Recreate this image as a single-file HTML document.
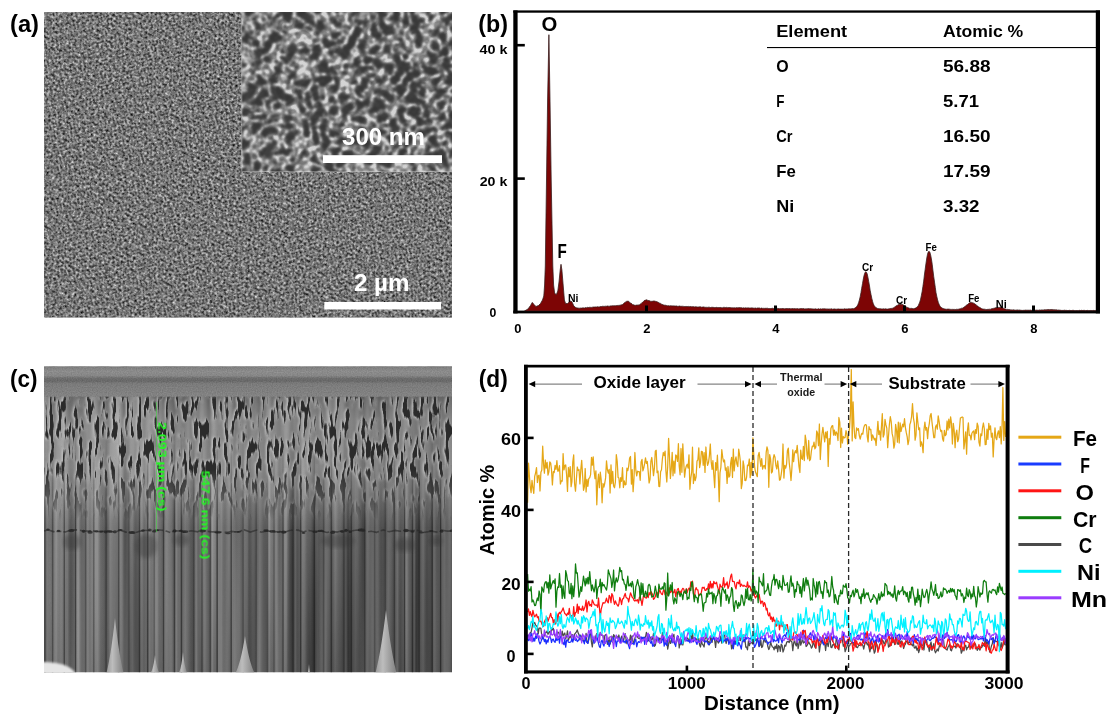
<!DOCTYPE html>
<html lang="en"><head><meta charset="utf-8"><title>Figure</title>
<style>html,body{margin:0;padding:0;background:#fff;}svg{display:block;}text{font-family:"Liberation Sans",Arial,sans-serif;}</style>
</head><body>
<svg width="1115" height="724" viewBox="0 0 1115 724">
<defs>
<filter id="fA" x="0" y="0" width="100%" height="100%" color-interpolation-filters="sRGB">
  <feTurbulence type="fractalNoise" baseFrequency="0.43" numOctaves="2" seed="7" result="t"/>
  <feColorMatrix type="matrix" values="1.3 0 0 0 -0.19  1.3 0 0 0 -0.19  1.3 0 0 0 -0.19  0 0 0 0 1"/>
</filter>
<filter id="fIn" x="0" y="0" width="100%" height="100%" color-interpolation-filters="sRGB">
  <feTurbulence type="turbulence" baseFrequency="0.088" numOctaves="2" seed="14" result="a"/>
  <feColorMatrix in="a" type="matrix" values="-3.0 0 0 0 0.98  -3.0 0 0 0 0.98  -3.0 0 0 0 0.98  0 0 0 0 1" result="ra0"/>
  <feGaussianBlur in="ra0" stdDeviation="0.9" result="ra"/>
  <feTurbulence type="fractalNoise" baseFrequency="0.19" numOctaves="1" seed="8" result="b"/>
  <feColorMatrix in="b" type="matrix" values="3.4 0 0 0 -1.3  3.4 0 0 0 -1.3  3.4 0 0 0 -1.3  0 0 0 0 1" result="rb"/>
  <feComposite in="ra" in2="rb" operator="arithmetic" k1="1.0" k2="0.68" k3="0.05" k4="0.04" result="c"/>
  <feColorMatrix in="c" type="matrix" values="0.64 0 0 0 0.19  0.64 0 0 0 0.19  0.64 0 0 0 0.19  0 0 0 0 1"/>
  <feGaussianBlur stdDeviation="0.5"/>
</filter>
<filter id="fPor" x="0" y="0" width="100%" height="100%" color-interpolation-filters="sRGB">
  <feTurbulence type="fractalNoise" baseFrequency="0.24 0.05" numOctaves="2" seed="5" result="t"/>
  <feColorMatrix in="t" type="matrix" values="0 0 0 0 0.17  0 0 0 0 0.17  0 0 0 0 0.17  -11 0 0 0 5.1" result="dark"/>
  <feColorMatrix in="t" type="matrix" values="0 0 0 0 0.76  0 0 0 0 0.76  0 0 0 0 0.76  -11 0 0 0 5.5" result="lite0"/>
  <feOffset in="lite0" dx="-0.9" dy="-0.3" result="lite1"/>
  <feGaussianBlur in="lite1" stdDeviation="0.8" result="lite"/>
  <feGaussianBlur in="dark" stdDeviation="0.6" result="darkb"/>
  <feMerge><feMergeNode in="lite"/><feMergeNode in="darkb"/></feMerge>
</filter>
<filter id="fCol" x="0" y="0" width="100%" height="100%" color-interpolation-filters="sRGB">
  <feTurbulence type="fractalNoise" baseFrequency="0.09 0.002" numOctaves="2" seed="9" result="t"/>
  <feColorMatrix type="matrix" values="0.55 0 0 0 0.16  0.55 0 0 0 0.16  0.55 0 0 0 0.16  0 0 0 0 1"/>
</filter>
<linearGradient id="gWall" x1="0" y1="0" x2="0" y2="1">
 <stop offset="0" stop-color="#fff" stop-opacity="0.07"/>
 <stop offset="0.2" stop-color="#fff" stop-opacity="0.22"/>
 <stop offset="0.55" stop-color="#fff" stop-opacity="0.24"/>
 <stop offset="1" stop-color="#fff" stop-opacity="0"/>
</linearGradient>
<linearGradient id="gPorMask" x1="0" y1="0" x2="0" y2="1">
 <stop offset="0" stop-color="#fff" stop-opacity="0"/>
 <stop offset="0.05" stop-color="#fff" stop-opacity="1"/>
 <stop offset="0.6" stop-color="#fff" stop-opacity="1"/>
 <stop offset="0.82" stop-color="#fff" stop-opacity="0.5"/>
 <stop offset="1" stop-color="#fff" stop-opacity="0"/>
</linearGradient>
<mask id="pm"><rect x="44" y="393" width="408" height="128" fill="url(#gPorMask)"/></mask>
<filter id="fGrain" x="0" y="0" width="100%" height="100%" color-interpolation-filters="sRGB">
  <feTurbulence type="fractalNoise" baseFrequency="0.8" numOctaves="1" seed="2"/>
  <feColorMatrix type="matrix" values="0.8 0 0 0 0.07  0.8 0 0 0 0.07  0.8 0 0 0 0.07  0 0 0 0 1"/>
</filter>
<filter id="pblur"><feGaussianBlur stdDeviation="0.55"/></filter>
<filter id="blur1"><feGaussianBlur stdDeviation="0.8"/></filter>
<filter id="blur2"><feGaussianBlur stdDeviation="2.2"/></filter>
<filter id="gblur"><feGaussianBlur stdDeviation="0.45"/></filter>
<linearGradient id="gPorFade" x1="0" y1="0" x2="0" y2="1">
  <stop offset="0" stop-color="#808080" stop-opacity="1"/>
  <stop offset="0.10" stop-color="#808080" stop-opacity="0"/>
  <stop offset="0.75" stop-color="#747474" stop-opacity="0"/>
  <stop offset="1" stop-color="#747474" stop-opacity="1"/>
</linearGradient>
<linearGradient id="gColH" x1="0" y1="0" x2="1" y2="0">
  <stop offset="0" stop-color="#fff" stop-opacity="0.06"/>
  <stop offset="0.3" stop-color="#fff" stop-opacity="0.22"/>
  <stop offset="0.62" stop-color="#888" stop-opacity="0.0"/>
  <stop offset="1" stop-color="#000" stop-opacity="0.26"/>
</linearGradient>
<linearGradient id="gColMask" x1="0" y1="0" x2="0" y2="1">
  <stop offset="0" stop-color="#fff" stop-opacity="0"/>
  <stop offset="0.28" stop-color="#fff" stop-opacity="1"/>
  <stop offset="1" stop-color="#fff" stop-opacity="1"/>
</linearGradient>
<mask id="cm"><rect x="44" y="425" width="408" height="250" fill="url(#gColMask)"/></mask>
<linearGradient id="gColShadeH" x1="0" y1="0" x2="1" y2="0">
  <stop offset="0" stop-color="#000" stop-opacity="0"/>
  <stop offset="0.45" stop-color="#000" stop-opacity="0.05"/>
  <stop offset="1" stop-color="#000" stop-opacity="0.24"/>
</linearGradient>
<linearGradient id="gColShade" x1="0" y1="0" x2="0" y2="1">
  <stop offset="0" stop-color="#000" stop-opacity="0"/>
  <stop offset="1" stop-color="#000" stop-opacity="0.10"/>
</linearGradient>
<linearGradient id="gTop" x1="0" y1="0" x2="0" y2="1">
  <stop offset="0" stop-color="#808080"/>
  <stop offset="0.16" stop-color="#919191"/>
  <stop offset="0.30" stop-color="#8b8b8b"/>
  <stop offset="0.40" stop-color="#6a6a6a"/>
  <stop offset="0.48" stop-color="#666"/>
  <stop offset="0.57" stop-color="#7c7c7c"/>
  <stop offset="1" stop-color="#868686"/>
</linearGradient>
<linearGradient id="gSpike" x1="0" y1="0" x2="1" y2="0">
  <stop offset="0" stop-color="#9a9a9a"/>
  <stop offset="0.35" stop-color="#bdbdbd"/>
  <stop offset="1" stop-color="#808080"/>
</linearGradient>
<clipPath id="clipIn"><rect x="241.5" y="12" width="210.5" height="160"/></clipPath>
<clipPath id="clipA"><rect x="44" y="12" width="408" height="305.5"/></clipPath>
<clipPath id="clipC"><rect x="44" y="366.6" width="408" height="305.6"/></clipPath>
<clipPath id="clipB"><rect x="517" y="12" width="579" height="299.5"/></clipPath>
<clipPath id="clipD"><rect x="527" y="367" width="479" height="304"/></clipPath>
</defs>
<rect x="0" y="0" width="1115" height="724" fill="#fff"/>
<g clip-path="url(#clipA)">
<rect x="44" y="12" width="408" height="305.5" fill="#7b7b7b"/>
<rect x="-60" y="-110" width="620" height="560" filter="url(#fA)" transform="rotate(28 248 165)"/>
<g clip-path="url(#clipIn)"><rect x="190" y="-60" width="320" height="310" filter="url(#fIn)" transform="rotate(33 347 92)"/></g>
<path d="M241.8,12 V171.7 H452" fill="none" stroke="#d8d8d8" stroke-width="0.8" opacity="0.55"/>
</g>
<rect x="323" y="155.2" width="119" height="7.8" fill="#fff"/>
<text x="342.00" y="144.6" font-size="24.5" font-weight="bold" fill="#fff" textLength="82.97" lengthAdjust="spacingAndGlyphs" >300 nm</text>
<rect x="324.3" y="302" width="116.8" height="7.5" fill="#fff"/>
<text x="354.00" y="290.5" font-size="24" font-weight="bold" fill="#fff" textLength="55.48" lengthAdjust="spacingAndGlyphs" >2 µm</text>
<text x="10.00" y="31.5" font-size="24" font-weight="bold" fill="#000" textLength="28.99" lengthAdjust="spacingAndGlyphs" >(a)</text>
<rect x="513.3" y="10.4" width="586.7" height="2.3" fill="#000"/>
<rect x="513.3" y="10.4" width="4.3" height="303" fill="#000"/>
<rect x="1095.8" y="10.4" width="4.2" height="303" fill="#000"/>
<rect x="513.3" y="310.6" width="586.7" height="2.8" fill="#000"/>
<g clip-path="url(#clipB)"><path d="M524.5,311.0 L524.5,311.0 L528.0,309.0 L530.5,305.5 L532.3,302.4 L534.0,304.5 L536.0,306.5 L538.5,305.5 L540.5,303.5 L542.5,300.0 L543.8,296.0 L544.6,285.0 L545.3,266.0 L546.5,180.0 L547.6,100.0 L548.9,34.7 L550.0,100.0 L551.2,180.0 L552.8,266.0 L553.6,285.0 L554.6,293.0 L556.3,294.8 L557.8,291.0 L559.0,282.0 L560.2,270.0 L561.0,264.3 L561.9,270.0 L563.4,288.0 L564.4,300.0 L565.6,303.6 L567.5,303.5 L569.5,301.8 L570.9,300.9 L572.3,302.5 L573.8,306.0 L576.0,307.8 L579.0,308.2 L580.0,308.2 L580.8,308.0 L581.5,308.1 L582.3,307.9 L583.1,307.8 L583.9,308.0 L584.6,308.0 L585.4,307.6 L586.2,307.8 L587.0,307.7 L587.7,307.3 L588.5,307.5 L589.3,307.3 L590.1,307.4 L590.8,307.3 L591.6,307.4 L592.4,307.2 L593.2,307.0 L593.9,307.1 L594.7,307.0 L595.5,306.9 L596.3,307.1 L597.0,306.8 L597.8,306.8 L598.6,306.9 L599.4,306.9 L600.1,306.5 L600.9,306.6 L601.7,306.5 L602.4,306.3 L603.2,306.4 L604.0,306.2 L604.8,306.4 L605.5,306.2 L606.3,306.3 L607.1,306.0 L607.9,306.0 L608.6,306.2 L609.4,306.2 L610.2,306.1 L611.0,305.7 L611.7,305.9 L612.5,305.7 L613.3,305.8 L614.1,305.7 L614.8,305.7 L615.6,305.7 L616.4,305.6 L617.2,305.5 L617.9,305.4 L618.7,305.4 L619.5,305.3 L620.2,305.2 L621.0,304.9 L621.8,304.8 L622.6,304.6 L623.3,303.8 L624.1,303.1 L624.9,302.4 L625.7,301.9 L626.4,301.4 L627.2,301.3 L628.0,301.1 L628.8,301.5 L629.5,302.2 L630.3,302.9 L631.1,303.2 L631.9,303.8 L632.6,304.7 L633.4,304.7 L634.2,305.1 L635.0,305.3 L635.7,305.3 L636.5,305.1 L637.3,305.0 L638.1,305.3 L638.8,304.8 L639.6,304.8 L640.4,304.1 L641.1,303.7 L641.9,302.8 L642.7,302.0 L643.5,301.5 L644.2,300.6 L645.0,300.3 L645.8,300.1 L646.6,299.8 L647.3,300.2 L648.1,300.4 L648.9,300.6 L649.7,300.8 L650.4,301.2 L651.2,301.4 L652.0,301.1 L652.8,301.3 L653.5,301.0 L654.3,301.0 L655.1,301.3 L655.9,301.4 L656.6,301.6 L657.4,301.9 L658.2,302.3 L658.9,302.7 L659.7,303.2 L660.5,303.4 L661.3,304.0 L662.0,304.4 L662.8,304.6 L663.6,305.0 L664.4,305.2 L665.1,305.1 L665.9,305.4 L666.7,305.5 L667.5,305.8 L668.2,305.7 L669.0,305.7 L669.8,306.0 L670.6,305.7 L671.3,305.8 L672.1,306.1 L672.9,305.8 L673.7,305.9 L674.4,305.9 L675.2,306.1 L676.0,305.9 L676.8,306.0 L677.5,306.3 L678.3,306.3 L679.1,306.1 L679.8,306.0 L680.6,306.3 L681.4,306.3 L682.2,306.2 L682.9,306.4 L683.7,306.4 L684.5,306.5 L685.3,306.5 L686.0,306.4 L686.8,306.5 L687.6,306.5 L688.4,306.4 L689.1,306.8 L689.9,306.5 L690.7,306.5 L691.5,306.7 L692.2,306.8 L693.0,306.6 L693.8,306.8 L694.6,306.9 L695.3,306.8 L696.1,306.7 L696.9,307.0 L697.6,307.0 L698.4,307.0 L699.2,306.8 L700.0,307.0 L700.7,306.8 L701.5,307.2 L702.3,307.1 L703.1,307.0 L703.8,306.9 L704.6,307.2 L705.4,307.3 L706.2,307.4 L706.9,307.2 L707.7,307.4 L708.5,307.2 L709.3,307.2 L710.0,307.5 L710.8,307.5 L711.6,307.3 L712.4,307.3 L713.1,307.3 L713.9,307.5 L714.7,307.6 L715.5,307.5 L716.2,307.3 L717.0,307.6 L717.8,307.6 L718.5,307.5 L719.3,307.5 L720.1,307.6 L720.9,307.4 L721.6,307.7 L722.4,307.8 L723.2,307.4 L724.0,307.4 L724.7,307.4 L725.5,307.6 L726.3,307.4 L727.1,307.4 L727.8,307.8 L728.6,307.5 L729.4,307.5 L730.2,307.6 L730.9,307.7 L731.7,307.8 L732.5,307.8 L733.3,307.8 L734.0,307.9 L734.8,307.7 L735.6,307.9 L736.3,307.6 L737.1,308.0 L737.9,307.6 L738.7,307.7 L739.4,307.6 L740.2,307.7 L741.0,307.7 L741.8,307.8 L742.5,308.1 L743.3,307.8 L744.1,308.0 L744.9,308.0 L745.6,307.8 L746.4,307.9 L747.2,308.0 L748.0,307.8 L748.7,307.9 L749.5,308.0 L750.3,308.1 L751.1,307.8 L751.8,308.0 L752.6,307.9 L753.4,308.1 L754.2,308.2 L754.9,308.1 L755.7,308.0 L756.5,308.3 L757.2,308.0 L758.0,308.0 L758.8,308.0 L759.6,308.0 L760.3,308.4 L761.1,308.1 L761.9,308.1 L762.7,308.4 L763.4,308.3 L764.2,308.4 L765.0,308.3 L765.8,308.3 L766.5,308.3 L767.3,308.2 L768.1,308.6 L768.9,308.5 L769.6,308.5 L770.4,308.5 L771.2,308.6 L772.0,308.2 L772.7,308.3 L773.5,308.6 L774.3,308.5 L775.0,308.5 L775.8,308.6 L776.6,308.6 L777.4,308.4 L778.1,308.5 L778.9,308.6 L779.7,308.7 L780.5,308.6 L781.2,308.7 L782.0,308.5 L782.8,308.5 L783.6,308.6 L784.3,308.8 L785.1,308.7 L785.9,308.6 L786.7,308.5 L787.4,308.5 L788.2,308.7 L789.0,308.5 L789.8,308.6 L790.5,308.7 L791.3,308.7 L792.1,308.6 L792.8,308.6 L793.6,308.7 L794.4,308.6 L795.2,308.7 L795.9,308.8 L796.7,308.7 L797.5,308.6 L798.3,308.9 L799.0,308.8 L799.8,308.8 L800.6,308.6 L801.4,308.5 L802.1,308.8 L802.9,308.6 L803.7,308.6 L804.5,308.9 L805.2,308.8 L806.0,309.0 L806.8,308.7 L807.6,308.7 L808.3,308.6 L809.1,308.7 L809.9,308.8 L810.7,308.7 L811.4,308.8 L812.2,309.0 L813.0,308.8 L813.7,309.1 L814.5,309.0 L815.3,308.8 L816.1,309.1 L816.8,309.1 L817.6,309.1 L818.4,308.7 L819.2,309.1 L819.9,309.1 L820.7,308.8 L821.5,309.1 L822.3,308.8 L823.0,308.9 L823.8,308.8 L824.6,308.8 L825.4,308.9 L826.1,308.8 L826.9,309.2 L827.7,308.9 L828.5,309.0 L829.2,308.9 L830.0,309.2 L830.8,308.9 L831.5,308.8 L832.3,309.2 L833.1,309.1 L833.9,309.0 L834.6,308.9 L835.4,309.1 L836.2,309.2 L837.0,309.1 L837.7,309.0 L838.5,308.9 L839.3,309.1 L840.1,309.1 L840.8,309.1 L841.6,309.1 L842.4,309.1 L843.2,309.2 L843.9,309.0 L844.7,308.8 L845.5,309.0 L846.3,308.9 L847.0,309.1 L847.8,308.9 L848.6,308.8 L849.4,308.8 L850.1,308.9 L850.9,308.8 L851.7,308.7 L852.4,308.5 L853.2,308.8 L854.0,308.6 L854.8,308.1 L855.5,307.6 L856.3,307.1 L857.1,306.1 L857.9,304.5 L858.6,302.7 L859.4,300.0 L860.2,296.7 L861.0,292.5 L861.7,288.2 L862.5,283.7 L863.3,279.1 L864.1,275.3 L864.8,273.1 L865.6,271.7 L866.4,272.2 L867.2,273.9 L867.9,277.2 L868.7,281.4 L869.5,286.0 L870.2,290.6 L871.0,294.6 L871.8,298.4 L872.6,301.5 L873.3,303.8 L874.1,305.5 L874.9,306.5 L875.7,307.6 L876.4,307.8 L877.2,308.4 L878.0,308.5 L878.8,308.7 L879.5,308.7 L880.3,308.7 L881.1,308.9 L881.9,308.9 L882.6,308.9 L883.4,308.8 L884.2,309.0 L885.0,308.9 L885.7,308.8 L886.5,309.0 L887.3,309.1 L888.1,309.1 L888.8,308.8 L889.6,308.7 L890.4,308.5 L891.1,308.4 L891.9,308.4 L892.7,308.2 L893.5,307.8 L894.2,307.4 L895.0,306.7 L895.8,306.2 L896.6,305.6 L897.3,305.4 L898.1,304.7 L898.9,304.6 L899.7,304.3 L900.4,304.1 L901.2,304.4 L902.0,304.5 L902.8,304.5 L903.5,305.1 L904.3,305.6 L905.1,306.0 L905.9,306.4 L906.6,307.2 L907.4,307.4 L908.2,307.8 L908.9,308.0 L909.7,308.4 L910.5,308.4 L911.3,308.3 L912.0,308.6 L912.8,308.6 L913.6,308.7 L914.4,308.5 L915.1,308.1 L915.9,308.1 L916.7,307.2 L917.5,306.5 L918.2,305.8 L919.0,303.9 L919.8,302.1 L920.6,299.2 L921.3,295.8 L922.1,291.8 L922.9,286.6 L923.7,281.1 L924.4,275.0 L925.2,269.2 L926.0,263.2 L926.8,258.0 L927.5,254.2 L928.3,251.8 L929.1,251.3 L929.8,252.1 L930.6,254.9 L931.4,258.9 L932.2,264.2 L932.9,270.1 L933.7,276.4 L934.5,282.1 L935.3,287.6 L936.0,292.7 L936.8,296.5 L937.6,299.9 L938.4,302.7 L939.1,304.3 L939.9,306.1 L940.7,307.1 L941.5,307.6 L942.2,308.1 L943.0,308.5 L943.8,308.7 L944.6,308.9 L945.3,309.1 L946.1,309.2 L946.9,309.3 L947.6,309.1 L948.4,309.1 L949.2,309.2 L950.0,309.2 L950.7,309.4 L951.5,309.4 L952.3,309.4 L953.1,309.2 L953.8,309.6 L954.6,309.4 L955.4,309.5 L956.2,309.2 L956.9,309.4 L957.7,309.3 L958.5,309.2 L959.3,309.0 L960.0,308.8 L960.8,308.7 L961.6,308.2 L962.4,308.2 L963.1,307.7 L963.9,307.3 L964.7,306.8 L965.5,305.9 L966.2,305.3 L967.0,304.9 L967.8,304.3 L968.5,303.6 L969.3,303.0 L970.1,302.6 L970.9,302.4 L971.6,302.4 L972.4,302.7 L973.2,302.9 L974.0,303.4 L974.7,303.7 L975.5,304.3 L976.3,305.1 L977.1,305.7 L977.8,306.1 L978.6,307.1 L979.4,307.3 L980.2,307.7 L980.9,308.1 L981.7,308.7 L982.5,308.9 L983.3,309.1 L984.0,309.2 L984.8,309.2 L985.6,309.4 L986.3,309.6 L987.1,309.3 L987.9,309.5 L988.7,309.3 L989.4,309.2 L990.2,309.4 L991.0,308.9 L991.8,308.7 L992.5,308.6 L993.3,308.4 L994.1,308.2 L994.9,308.1 L995.6,307.7 L996.4,307.8 L997.2,307.5 L998.0,307.3 L998.7,307.4 L999.5,307.4 L1000.3,307.3 L1001.1,307.5 L1001.8,308.0 L1002.6,307.9 L1003.4,308.2 L1004.2,308.7 L1004.9,308.8 L1005.7,309.1 L1006.5,309.4 L1007.2,309.4 L1008.0,309.3 L1008.8,309.7 L1009.6,309.6 L1010.3,309.8 L1011.1,310.1 L1011.9,309.8 L1012.7,310.0 L1013.4,309.8 L1014.2,310.0 L1015.0,310.0 L1015.8,310.2 L1016.5,310.0 L1017.3,309.9 L1018.1,310.0 L1018.9,310.2 L1019.6,310.0 L1020.4,310.2 L1021.2,310.3 L1022.0,310.4 L1022.7,310.4 L1023.5,310.3 L1024.3,310.3 L1025.0,310.2 L1025.8,310.1 L1026.6,310.2 L1027.4,310.2 L1028.1,310.1 L1028.9,310.3 L1029.7,310.2 L1030.5,310.1 L1031.2,310.3 L1032.0,310.4 L1032.8,310.0 L1033.6,310.1 L1034.3,310.3 L1035.1,310.2 L1035.9,310.2 L1036.7,310.1 L1037.4,310.2 L1038.2,310.3 L1039.0,310.2 L1039.8,309.9 L1040.5,310.1 L1041.3,309.9 L1042.1,310.0 L1042.9,309.9 L1043.6,309.9 L1044.4,309.7 L1045.2,309.8 L1045.9,309.8 L1046.7,309.7 L1047.5,309.6 L1048.3,309.5 L1049.0,309.6 L1049.8,309.7 L1050.6,309.5 L1051.4,309.5 L1052.1,309.4 L1052.9,309.8 L1053.7,309.7 L1054.5,309.7 L1055.2,310.0 L1056.0,309.6 L1056.8,310.0 L1057.6,310.1 L1058.3,310.0 L1059.1,310.2 L1059.9,310.1 L1060.7,310.3 L1061.4,310.4 L1062.2,310.5 L1063.0,310.2 L1063.7,310.4 L1064.5,310.2 L1065.3,310.4 L1066.1,310.2 L1066.8,310.5 L1067.6,310.5 L1068.4,310.5 L1069.2,310.3 L1069.9,310.4 L1070.7,310.5 L1071.5,310.6 L1072.3,310.4 L1073.0,310.3 L1073.8,310.4 L1074.6,310.7 L1075.4,310.7 L1076.1,310.7 L1076.9,310.6 L1077.7,310.7 L1078.5,310.7 L1079.2,310.4 L1080.0,310.3 L1080.8,310.7 L1081.6,310.3 L1082.3,310.5 L1083.1,310.4 L1083.9,310.4 L1084.6,310.4 L1085.4,310.8 L1086.2,310.6 L1087.0,310.5 L1087.7,310.4 L1088.5,310.7 L1089.3,310.7 L1090.1,310.4 L1090.8,310.7 L1091.6,310.6 L1092.4,310.7 L1093.2,310.5 L1093.9,310.4 L1094.7,310.7 L1095.5,310.5 L1096.3,310.5 L1097.0,310.4 L1097.0,311.0 Z" fill="#7d0505" stroke="#3a2020" stroke-width="0.8" stroke-linejoin="round"/></g>
<rect x="517" y="43.900000000000006" width="7.8" height="2.6" fill="#000"/>
<rect x="517" y="177.29999999999998" width="7.8" height="2.6" fill="#000"/>
<rect x="645.0" y="305.5" width="3" height="6" fill="#000"/>
<rect x="774.0" y="305.5" width="3" height="6" fill="#000"/>
<rect x="903.0" y="305.5" width="3" height="6" fill="#000"/>
<rect x="1032.0" y="305.5" width="3" height="6" fill="#000"/>
<text x="479.60" y="54" font-size="13.2" font-weight="bold" fill="#000" textLength="27.98" lengthAdjust="spacingAndGlyphs" >40 k</text>
<text x="479.70" y="186" font-size="13.2" font-weight="bold" fill="#000" textLength="27.58" lengthAdjust="spacingAndGlyphs" >20 k</text>
<text x="489.60" y="317" font-size="13.2" font-weight="bold" fill="#000" textLength="6.81" lengthAdjust="spacingAndGlyphs" >0</text>
<text x="514.20" y="333.4" font-size="13.4" font-weight="bold" fill="#000" textLength="7.22" lengthAdjust="spacingAndGlyphs" >0</text>
<text x="643.20" y="333.4" font-size="13.4" font-weight="bold" fill="#000" textLength="7.22" lengthAdjust="spacingAndGlyphs" >2</text>
<text x="772.20" y="333.4" font-size="13.4" font-weight="bold" fill="#000" textLength="7.22" lengthAdjust="spacingAndGlyphs" >4</text>
<text x="901.20" y="333.4" font-size="13.4" font-weight="bold" fill="#000" textLength="7.22" lengthAdjust="spacingAndGlyphs" >6</text>
<text x="1030.20" y="333.4" font-size="13.4" font-weight="bold" fill="#000" textLength="7.22" lengthAdjust="spacingAndGlyphs" >8</text>
<text x="541.60" y="31.2" font-size="20" font-weight="bold" fill="#000" textLength="15.81" lengthAdjust="spacingAndGlyphs" >O</text>
<text x="557.60" y="258" font-size="20.5" font-weight="bold" fill="#000" textLength="9.31" lengthAdjust="spacingAndGlyphs" >F</text>
<text x="568.00" y="302" font-size="10.5" font-weight="bold" fill="#000" >Ni</text>
<text x="862.10" y="270.6" font-size="10.5" font-weight="bold" fill="#000" textLength="11.19" lengthAdjust="spacingAndGlyphs" >Cr</text>
<text x="896.00" y="304.4" font-size="10.5" font-weight="bold" fill="#000" textLength="11.19" lengthAdjust="spacingAndGlyphs" >Cr</text>
<text x="925.50" y="250.5" font-size="10.5" font-weight="bold" fill="#000" textLength="11.30" lengthAdjust="spacingAndGlyphs" >Fe</text>
<text x="968.20" y="302.4" font-size="10.5" font-weight="bold" fill="#000" textLength="11.30" lengthAdjust="spacingAndGlyphs" >Fe</text>
<text x="995.80" y="307.6" font-size="10.5" font-weight="bold" fill="#000" textLength="11.00" lengthAdjust="spacingAndGlyphs" >Ni</text>
<text x="478.30" y="31.5" font-size="24" font-weight="bold" fill="#000" textLength="29.69" lengthAdjust="spacingAndGlyphs" >(b)</text>
<text x="776.20" y="36.8" font-size="16.6" font-weight="bold" fill="#000" textLength="71.00" lengthAdjust="spacingAndGlyphs" >Element</text>
<text x="943.00" y="36.8" font-size="16.6" font-weight="bold" fill="#000" textLength="80.28" lengthAdjust="spacingAndGlyphs" >Atomic %</text>
<rect x="767" y="47" width="329" height="1.1" fill="#000"/>
<text x="776.20" y="71.5" font-size="16.6" font-weight="bold" fill="#000" textLength="12.41" lengthAdjust="spacingAndGlyphs" >O</text>
<text x="943.00" y="71.5" font-size="16.6" font-weight="bold" fill="#000" textLength="47.50" lengthAdjust="spacingAndGlyphs" >56.88</text>
<text x="776.20" y="106.7" font-size="16.6" font-weight="bold" fill="#000" textLength="8.21" lengthAdjust="spacingAndGlyphs" >F</text>
<text x="943.00" y="106.7" font-size="16.6" font-weight="bold" fill="#000" textLength="35.98" lengthAdjust="spacingAndGlyphs" >5.71</text>
<text x="776.20" y="141.9" font-size="16.6" font-weight="bold" fill="#000" textLength="16.28" lengthAdjust="spacingAndGlyphs" >Cr</text>
<text x="943.00" y="141.9" font-size="16.6" font-weight="bold" fill="#000" textLength="47.50" lengthAdjust="spacingAndGlyphs" >16.50</text>
<text x="776.20" y="177.1" font-size="16.6" font-weight="bold" fill="#000" textLength="19.59" lengthAdjust="spacingAndGlyphs" >Fe</text>
<text x="943.00" y="177.1" font-size="16.6" font-weight="bold" fill="#000" textLength="47.50" lengthAdjust="spacingAndGlyphs" >17.59</text>
<text x="776.20" y="212.3" font-size="16.6" font-weight="bold" fill="#000" textLength="18.00" lengthAdjust="spacingAndGlyphs" >Ni</text>
<text x="943.00" y="212.3" font-size="16.6" font-weight="bold" fill="#000" textLength="36.48" lengthAdjust="spacingAndGlyphs" >3.32</text>
<g clip-path="url(#clipC)">
<rect x="44" y="366.6" width="408" height="305.6" fill="#7e7e7e"/>
<rect x="44" y="366.6" width="408" height="305.6" filter="url(#fCol)"/>
<rect x="45.0" y="469" width="7.7" height="206" fill="url(#gColH)" opacity="0.56" mask="url(#cm)"/>
<rect x="52.7" y="459" width="11.7" height="216" fill="url(#gColH)" opacity="0.94" mask="url(#cm)"/>
<rect x="64.4" y="451" width="11.3" height="224" fill="url(#gColH)" opacity="0.87" mask="url(#cm)"/>
<rect x="75.7" y="431" width="10.1" height="244" fill="url(#gColH)" opacity="0.85" mask="url(#cm)"/>
<rect x="85.8" y="462" width="8.1" height="213" fill="url(#gColH)" opacity="0.71" mask="url(#cm)"/>
<rect x="93.9" y="467" width="12.4" height="208" fill="url(#gColH)" opacity="0.56" mask="url(#cm)"/>
<rect x="106.3" y="443" width="12.6" height="232" fill="url(#gColH)" opacity="0.94" mask="url(#cm)"/>
<rect x="118.9" y="445" width="10.3" height="230" fill="url(#gColH)" opacity="0.65" mask="url(#cm)"/>
<rect x="129.2" y="470" width="10.3" height="205" fill="url(#gColH)" opacity="0.66" mask="url(#cm)"/>
<rect x="139.5" y="426" width="8.3" height="249" fill="url(#gColH)" opacity="0.66" mask="url(#cm)"/>
<rect x="147.8" y="457" width="6.5" height="218" fill="url(#gColH)" opacity="0.50" mask="url(#cm)"/>
<rect x="154.3" y="447" width="9.3" height="228" fill="url(#gColH)" opacity="1.00" mask="url(#cm)"/>
<rect x="163.6" y="450" width="10.9" height="225" fill="url(#gColH)" opacity="0.72" mask="url(#cm)"/>
<rect x="174.5" y="435" width="7.0" height="240" fill="url(#gColH)" opacity="0.86" mask="url(#cm)"/>
<rect x="181.5" y="450" width="12.5" height="225" fill="url(#gColH)" opacity="0.78" mask="url(#cm)"/>
<rect x="194.0" y="433" width="8.2" height="242" fill="url(#gColH)" opacity="0.79" mask="url(#cm)"/>
<rect x="202.2" y="441" width="8.2" height="234" fill="url(#gColH)" opacity="0.54" mask="url(#cm)"/>
<rect x="210.4" y="441" width="6.8" height="234" fill="url(#gColH)" opacity="0.96" mask="url(#cm)"/>
<rect x="217.3" y="439" width="14.0" height="236" fill="url(#gColH)" opacity="0.78" mask="url(#cm)"/>
<rect x="231.2" y="428" width="12.0" height="247" fill="url(#gColH)" opacity="0.51" mask="url(#cm)"/>
<rect x="243.3" y="460" width="13.1" height="215" fill="url(#gColH)" opacity="0.90" mask="url(#cm)"/>
<rect x="256.4" y="456" width="11.1" height="219" fill="url(#gColH)" opacity="0.66" mask="url(#cm)"/>
<rect x="267.5" y="465" width="6.8" height="210" fill="url(#gColH)" opacity="0.82" mask="url(#cm)"/>
<rect x="274.2" y="443" width="9.0" height="232" fill="url(#gColH)" opacity="0.98" mask="url(#cm)"/>
<rect x="283.2" y="468" width="10.2" height="207" fill="url(#gColH)" opacity="0.99" mask="url(#cm)"/>
<rect x="293.4" y="465" width="7.4" height="210" fill="url(#gColH)" opacity="0.77" mask="url(#cm)"/>
<rect x="300.8" y="442" width="13.6" height="233" fill="url(#gColH)" opacity="0.72" mask="url(#cm)"/>
<rect x="314.4" y="464" width="9.3" height="211" fill="url(#gColH)" opacity="0.59" mask="url(#cm)"/>
<rect x="323.7" y="428" width="7.7" height="247" fill="url(#gColH)" opacity="0.54" mask="url(#cm)"/>
<rect x="331.4" y="460" width="12.6" height="215" fill="url(#gColH)" opacity="0.89" mask="url(#cm)"/>
<rect x="344.0" y="463" width="7.4" height="212" fill="url(#gColH)" opacity="0.72" mask="url(#cm)"/>
<rect x="351.4" y="437" width="13.5" height="238" fill="url(#gColH)" opacity="0.48" mask="url(#cm)"/>
<rect x="364.9" y="444" width="9.9" height="231" fill="url(#gColH)" opacity="0.61" mask="url(#cm)"/>
<rect x="374.8" y="428" width="10.6" height="247" fill="url(#gColH)" opacity="0.54" mask="url(#cm)"/>
<rect x="385.4" y="465" width="9.1" height="210" fill="url(#gColH)" opacity="0.64" mask="url(#cm)"/>
<rect x="394.5" y="459" width="10.1" height="216" fill="url(#gColH)" opacity="0.99" mask="url(#cm)"/>
<rect x="404.6" y="436" width="7.9" height="239" fill="url(#gColH)" opacity="0.71" mask="url(#cm)"/>
<rect x="412.5" y="449" width="6.8" height="226" fill="url(#gColH)" opacity="0.98" mask="url(#cm)"/>
<rect x="419.3" y="426" width="13.0" height="249" fill="url(#gColH)" opacity="0.85" mask="url(#cm)"/>
<rect x="432.3" y="463" width="8.3" height="212" fill="url(#gColH)" opacity="0.57" mask="url(#cm)"/>
<rect x="440.6" y="465" width="12.4" height="210" fill="url(#gColH)" opacity="0.89" mask="url(#cm)"/>
<g mask="url(#cm)" filter="url(#gblur)">
<rect x="44.4" y="430" width="1.25" height="245" fill="#1c1c1c" opacity="0.44"/>
<rect x="52.1" y="430" width="1.25" height="245" fill="#1c1c1c" opacity="0.37"/>
<rect x="63.8" y="430" width="1.25" height="245" fill="#1c1c1c" opacity="0.43"/>
<rect x="75.1" y="430" width="1.25" height="245" fill="#1c1c1c" opacity="0.54"/>
<rect x="85.2" y="430" width="1.25" height="245" fill="#1c1c1c" opacity="0.32"/>
<rect x="93.3" y="430" width="1.25" height="245" fill="#1c1c1c" opacity="0.41"/>
<rect x="105.7" y="430" width="1.25" height="245" fill="#1c1c1c" opacity="0.31"/>
<rect x="118.3" y="430" width="1.25" height="245" fill="#1c1c1c" opacity="0.51"/>
<rect x="128.6" y="430" width="1.25" height="245" fill="#1c1c1c" opacity="0.20"/>
<rect x="138.9" y="430" width="1.25" height="245" fill="#1c1c1c" opacity="0.47"/>
<rect x="147.2" y="430" width="1.25" height="245" fill="#1c1c1c" opacity="0.58"/>
<rect x="153.7" y="430" width="1.25" height="245" fill="#1c1c1c" opacity="0.21"/>
<rect x="163.0" y="430" width="1.25" height="245" fill="#1c1c1c" opacity="0.44"/>
<rect x="173.9" y="430" width="1.25" height="245" fill="#1c1c1c" opacity="0.46"/>
<rect x="180.9" y="430" width="1.25" height="245" fill="#1c1c1c" opacity="0.54"/>
<rect x="193.4" y="430" width="1.25" height="245" fill="#1c1c1c" opacity="0.43"/>
<rect x="201.6" y="430" width="1.25" height="245" fill="#1c1c1c" opacity="0.30"/>
<rect x="209.8" y="430" width="1.25" height="245" fill="#1c1c1c" opacity="0.36"/>
<rect x="216.7" y="430" width="1.25" height="245" fill="#1c1c1c" opacity="0.58"/>
<rect x="230.6" y="430" width="1.25" height="245" fill="#1c1c1c" opacity="0.56"/>
<rect x="242.7" y="430" width="1.25" height="245" fill="#1c1c1c" opacity="0.25"/>
<rect x="255.8" y="430" width="1.25" height="245" fill="#1c1c1c" opacity="0.24"/>
<rect x="266.9" y="430" width="1.25" height="245" fill="#1c1c1c" opacity="0.24"/>
<rect x="273.6" y="430" width="1.25" height="245" fill="#1c1c1c" opacity="0.21"/>
<rect x="282.6" y="430" width="1.25" height="245" fill="#1c1c1c" opacity="0.38"/>
<rect x="292.8" y="430" width="1.25" height="245" fill="#1c1c1c" opacity="0.26"/>
<rect x="300.2" y="430" width="1.25" height="245" fill="#1c1c1c" opacity="0.55"/>
<rect x="313.8" y="430" width="1.25" height="245" fill="#1c1c1c" opacity="0.46"/>
<rect x="323.1" y="430" width="1.25" height="245" fill="#1c1c1c" opacity="0.25"/>
<rect x="330.8" y="430" width="1.25" height="245" fill="#1c1c1c" opacity="0.42"/>
<rect x="343.4" y="430" width="1.25" height="245" fill="#1c1c1c" opacity="0.33"/>
<rect x="350.8" y="430" width="1.25" height="245" fill="#1c1c1c" opacity="0.40"/>
<rect x="364.3" y="430" width="1.25" height="245" fill="#1c1c1c" opacity="0.29"/>
<rect x="374.2" y="430" width="1.25" height="245" fill="#1c1c1c" opacity="0.27"/>
<rect x="384.8" y="430" width="1.25" height="245" fill="#1c1c1c" opacity="0.27"/>
<rect x="393.9" y="430" width="1.25" height="245" fill="#1c1c1c" opacity="0.35"/>
<rect x="404.0" y="430" width="1.25" height="245" fill="#1c1c1c" opacity="0.48"/>
<rect x="411.9" y="430" width="1.25" height="245" fill="#1c1c1c" opacity="0.42"/>
<rect x="418.7" y="430" width="1.25" height="245" fill="#1c1c1c" opacity="0.22"/>
<rect x="431.7" y="430" width="1.25" height="245" fill="#1c1c1c" opacity="0.48"/>
<rect x="440.0" y="430" width="1.25" height="245" fill="#1c1c1c" opacity="0.55"/>
</g>
<rect x="44" y="500" width="408" height="172.2" fill="url(#gColShade)"/>
<rect x="44" y="366.6" width="408" height="305.6" fill="url(#gColShadeH)"/>
<rect x="44" y="393" width="408" height="135" fill="url(#gWall)"/>
<g mask="url(#pm)"><rect x="44" y="393" width="408" height="128" filter="url(#fPor)"/></g>
<rect x="44" y="366.6" width="408" height="30" fill="url(#gTop)"/>
<rect x="44" y="366.6" width="408" height="30" filter="url(#fGrain)" opacity="0.18"/>
<g filter="url(#gblur)"><path d="M44,531 L47.9,529.8 L54.6,531.9 L58.5,531.1 L65.2,532.0 L71.4,530.1 L77.9,529.8 L83.6,531.0 L90.1,531.1 L96.5,531.0 L100.7,531.9 L105.8,530.9 L109.6,531.4 L114.9,532.2 L120.3,530.2 L126.1,532.2 L132.1,532.4 L136.7,532.3 L143.0,530.4 L149.8,530.5 L154.3,530.4 L157.5,529.7 L162.5,530.2 L166.0,531.1 L170.6,532.5 L174.6,530.7 L180.9,531.0 L184.8,532.1 L191.8,530.7 L197.4,531.9 L202.4,529.8 L206.7,531.5 L212.3,531.9 L217.9,531.6 L224.8,532.4 L228.0,532.2 L231.6,531.4 L237.6,532.3 L244.1,529.8 L250.3,532.1 L256.8,530.1 L261.1,532.2 L266.0,531.1 L272.5,531.3 L275.5,532.0 L278.8,531.1 L283.8,532.4 L288.8,530.8 L294.9,529.7 L298.7,530.4 L303.4,531.9 L308.4,530.5 L315.0,531.6 L320.9,531.0 L326.9,532.5 L332.6,531.3 L336.9,532.1 L342.3,530.8 L345.8,529.7 L350.3,531.2 L357.1,530.0 L361.4,530.4 L367.6,531.9 L371.2,531.3 L376.5,532.3 L383.4,529.9 L389.1,531.7 L395.4,530.4 L400.0,531.3 L405.9,530.4 L412.5,530.7 L415.5,530.1 L421.3,531.3 L424.6,532.4 L431.2,531.3 L437.9,532.2 L441.5,530.2 L447.3,531.1 L451.3,531.1 L454.8,529.7 " fill="none" stroke="#262626" stroke-width="1.6" opacity="0.6" stroke-dasharray="11 2 5 2 14 3"/>
<g fill="#222" opacity="0.75"><ellipse cx="47.9" cy="529.6" rx="1.6" ry="1.2"/><ellipse cx="58.5" cy="530.9" rx="1.7" ry="1.1"/><ellipse cx="71.4" cy="530.6" rx="3.0" ry="1.6"/><ellipse cx="83.6" cy="531.3" rx="1.7" ry="1.6"/><ellipse cx="90.1" cy="532.2" rx="2.7" ry="1.6"/><ellipse cx="96.5" cy="531.5" rx="2.4" ry="1.0"/><ellipse cx="100.7" cy="531.5" rx="2.8" ry="1.1"/><ellipse cx="105.8" cy="532.1" rx="1.9" ry="1.2"/><ellipse cx="109.6" cy="531.5" rx="3.1" ry="1.2"/><ellipse cx="114.9" cy="531.8" rx="2.0" ry="1.5"/><ellipse cx="120.3" cy="530.0" rx="2.5" ry="0.9"/><ellipse cx="132.1" cy="532.4" rx="3.5" ry="1.5"/><ellipse cx="143.0" cy="530.6" rx="1.8" ry="1.2"/><ellipse cx="149.8" cy="530.1" rx="1.9" ry="1.5"/><ellipse cx="154.3" cy="531.5" rx="2.4" ry="1.1"/><ellipse cx="157.5" cy="530.3" rx="1.8" ry="0.9"/><ellipse cx="174.6" cy="530.9" rx="2.0" ry="1.6"/><ellipse cx="180.9" cy="530.9" rx="2.0" ry="1.1"/><ellipse cx="184.8" cy="531.7" rx="3.4" ry="1.4"/><ellipse cx="202.4" cy="530.8" rx="3.4" ry="1.6"/><ellipse cx="217.9" cy="532.6" rx="3.5" ry="1.0"/><ellipse cx="228.0" cy="533.3" rx="2.9" ry="0.9"/><ellipse cx="237.6" cy="531.8" rx="3.4" ry="0.9"/><ellipse cx="266.0" cy="530.6" rx="2.7" ry="1.3"/><ellipse cx="272.5" cy="531.4" rx="3.1" ry="1.3"/><ellipse cx="278.8" cy="532.0" rx="2.2" ry="1.1"/><ellipse cx="283.8" cy="532.1" rx="2.8" ry="1.6"/><ellipse cx="303.4" cy="532.9" rx="1.9" ry="1.0"/><ellipse cx="315.0" cy="531.7" rx="2.6" ry="1.3"/><ellipse cx="320.9" cy="530.9" rx="3.3" ry="1.2"/><ellipse cx="332.6" cy="532.4" rx="2.5" ry="1.6"/><ellipse cx="342.3" cy="531.6" rx="2.3" ry="1.4"/><ellipse cx="345.8" cy="530.6" rx="1.9" ry="1.6"/><ellipse cx="350.3" cy="531.8" rx="1.7" ry="1.2"/><ellipse cx="361.4" cy="529.9" rx="3.5" ry="1.6"/><ellipse cx="405.9" cy="530.5" rx="2.8" ry="1.7"/><ellipse cx="412.5" cy="531.6" rx="2.1" ry="1.2"/><ellipse cx="421.3" cy="532.5" rx="2.8" ry="1.0"/><ellipse cx="431.2" cy="531.0" rx="2.0" ry="1.1"/><ellipse cx="441.5" cy="531.3" rx="1.8" ry="1.5"/><ellipse cx="451.3" cy="530.7" rx="1.6" ry="1.2"/></g></g>
<ellipse cx="72" cy="542" rx="9" ry="8" fill="#333" opacity="0.38" filter="url(#blur2)"/>
<ellipse cx="146" cy="546" rx="11" ry="12" fill="#333" opacity="0.38" filter="url(#blur2)"/>
<ellipse cx="181" cy="540" rx="8" ry="6" fill="#333" opacity="0.38" filter="url(#blur2)"/>
<ellipse cx="338" cy="541" rx="17" ry="7" fill="#333" opacity="0.38" filter="url(#blur2)"/>
<ellipse cx="405" cy="545" rx="11" ry="7" fill="#333" opacity="0.38" filter="url(#blur2)"/>
<ellipse cx="436" cy="541" rx="7" ry="5" fill="#333" opacity="0.38" filter="url(#blur2)"/>
<path d="M106.5,673 Q111.26,653.5 115,618 Q118.74,653.5 123.5,673 Z" fill="url(#gSpike)" filter="url(#gblur)"/>
<path d="M235.5,673 Q240.82,662.5 245,636 Q249.18,662.5 254.5,673 Z" fill="url(#gSpike)" filter="url(#gblur)"/>
<path d="M375.5,673 Q381.38,649.5 386,610 Q390.62,649.5 396.5,673 Z" fill="url(#gSpike)" filter="url(#gblur)"/>
<path d="M178.5,673 Q181.02,670.5 183,652 Q184.98,670.5 187.5,673 Z" fill="url(#gSpike)" filter="url(#gblur)"/>
<path d="M150.0,673 Q152.8,672.0 155,655 Q157.2,672.0 160.0,673 Z" fill="url(#gSpike)" filter="url(#gblur)"/>
<path d="M306.5,673 Q307.9,676.5 309,664 Q310.1,676.5 311.5,673 Z" fill="url(#gSpike)" filter="url(#gblur)"/>
<ellipse cx="44" cy="676" rx="32" ry="14" fill="#e6e6e6" filter="url(#blur1)"/>
</g>
<rect x="156.2" y="402" width="0.8" height="130" fill="#3fe03f" opacity="0.65"/>
<rect x="199.3" y="498" width="0.8" height="34" fill="#3fe03f" opacity="0.25"/>
<text transform="translate(158.4,422) rotate(90)" x="-0.00" y="0" font-size="10.8" font-weight="bold" fill="#22f822" textLength="89.49" lengthAdjust="spacingAndGlyphs" filter="url(#gblur)">2.093 µm (cs)</text>
<text transform="translate(201.6,470.5) rotate(90)" x="-0.00" y="0" font-size="10.8" font-weight="bold" fill="#22f822" textLength="88.99" lengthAdjust="spacingAndGlyphs" filter="url(#gblur)">547.6 nm (cs)</text>
<text x="10.00" y="386.5" font-size="24" font-weight="bold" fill="#000" textLength="27.49" lengthAdjust="spacingAndGlyphs" >(c)</text>
<g clip-path="url(#clipD)">
<path d="M527.6,640.3 L528.5,635.4 L529.4,634.5 L530.3,632.6 L531.1,632.2 L532.0,627.8 L532.9,622.4 L533.8,623.7 L534.7,622.5 L535.6,625.1 L536.5,625.9 L537.4,627.1 L538.2,633.9 L539.1,628.2 L540.0,628.0 L540.9,628.4 L541.8,636.0 L542.7,638.8 L543.6,637.3 L544.4,635.4 L545.3,632.4 L546.2,632.7 L547.1,631.0 L548.0,634.3 L548.9,632.3 L549.8,631.5 L550.7,634.7 L551.5,628.1 L552.4,629.9 L553.3,628.4 L554.2,633.9 L555.1,636.0 L556.0,635.4 L556.9,634.6 L557.8,632.0 L558.6,632.5 L559.5,635.0 L560.4,637.4 L561.3,636.8 L562.2,631.1 L563.1,636.0 L564.0,634.1 L564.8,633.0 L565.7,638.9 L566.6,635.8 L567.5,630.9 L568.4,640.2 L569.3,637.6 L570.2,636.1 L571.1,638.1 L571.9,634.5 L572.8,635.3 L573.7,640.1 L574.6,634.2 L575.5,633.0 L576.4,631.8 L577.3,629.9 L578.1,632.9 L579.0,634.6 L579.9,639.8 L580.8,635.2 L581.7,637.9 L582.6,638.3 L583.5,641.1 L584.4,641.0 L585.2,639.6 L586.1,633.4 L587.0,642.3 L587.9,643.2 L588.8,638.0 L589.7,632.7 L590.6,633.9 L591.5,642.4 L592.3,647.0 L593.2,639.1 L594.1,640.4 L595.0,642.0 L595.9,635.8 L596.8,633.6 L597.7,636.1 L598.5,636.6 L599.4,636.2 L600.3,632.4 L601.2,634.4 L602.1,635.5 L603.0,635.7 L603.9,642.7 L604.8,635.7 L605.6,634.7 L606.5,635.8 L607.4,644.3 L608.3,642.5 L609.2,637.2 L610.1,644.2 L611.0,641.1 L611.8,636.2 L612.7,642.4 L613.6,634.7 L614.5,635.9 L615.4,638.5 L616.3,637.8 L617.2,636.5 L618.1,637.9 L618.9,635.0 L619.8,640.0 L620.7,640.7 L621.6,636.2 L622.5,638.2 L623.4,641.7 L624.3,636.9 L625.2,633.7 L626.0,639.0 L626.9,643.6 L627.8,641.0 L628.7,640.3 L629.6,640.6 L630.5,635.1 L631.4,641.4 L632.2,635.9 L633.1,642.4 L634.0,642.9 L634.9,638.4 L635.8,635.5 L636.7,635.5 L637.6,637.2 L638.5,638.3 L639.3,638.7 L640.2,637.4 L641.1,639.5 L642.0,638.6 L642.9,637.5 L643.8,639.0 L644.7,637.0 L645.5,637.0 L646.4,632.4 L647.3,636.4 L648.2,640.1 L649.1,641.1 L650.0,640.2 L650.9,636.9 L651.8,640.0 L652.6,638.6 L653.5,633.5 L654.4,646.3 L655.3,645.4 L656.2,640.8 L657.1,638.9 L658.0,638.8 L658.9,641.0 L659.7,638.2 L660.6,638.5 L661.5,641.3 L662.4,632.5 L663.3,636.6 L664.2,640.8 L665.1,640.6 L665.9,641.0 L666.8,640.6 L667.7,649.1 L668.6,644.4 L669.5,638.2 L670.4,643.4 L671.3,641.4 L672.2,637.5 L673.0,636.7 L673.9,634.4 L674.8,644.0 L675.7,642.6 L676.6,642.1 L677.5,638.9 L678.4,636.4 L679.2,647.9 L680.1,639.1 L681.0,644.8 L681.9,639.5 L682.8,645.0 L683.7,641.3 L684.6,636.9 L685.5,639.9 L686.3,639.8 L687.2,637.8 L688.1,639.3 L689.0,640.5 L689.9,635.6 L690.8,635.8 L691.7,640.2 L692.5,631.7 L693.4,641.7 L694.3,638.1 L695.2,640.8 L696.1,640.4 L697.0,638.4 L697.9,639.4 L698.8,638.3 L699.6,645.1 L700.5,647.0 L701.4,640.8 L702.3,644.0 L703.2,645.2 L704.1,647.0 L705.0,638.7 L705.9,637.9 L706.7,635.3 L707.6,642.4 L708.5,641.5 L709.4,644.9 L710.3,639.8 L711.2,635.6 L712.1,642.4 L712.9,636.5 L713.8,636.6 L714.7,640.4 L715.6,647.4 L716.5,638.5 L717.4,640.8 L718.3,643.1 L719.2,640.6 L720.0,639.8 L720.9,636.0 L721.8,643.1 L722.7,638.2 L723.6,635.6 L724.5,635.0 L725.4,640.1 L726.2,643.5 L727.1,638.8 L728.0,640.3 L728.9,640.8 L729.8,636.7 L730.7,641.0 L731.6,648.9 L732.5,645.0 L733.3,648.7 L734.2,641.1 L735.1,640.5 L736.0,643.3 L736.9,642.2 L737.8,639.2 L738.7,640.7 L739.6,637.2 L740.4,640.6 L741.3,638.1 L742.2,635.9 L743.1,634.8 L744.0,641.9 L744.9,639.1 L745.8,647.1 L746.6,647.0 L747.5,649.8 L748.4,640.9 L749.3,645.7 L750.2,643.1 L751.1,643.0 L752.0,642.5 L752.9,644.2 L753.7,642.1 L754.6,636.5 L755.5,640.5 L756.4,640.2 L757.3,638.6 L758.2,642.1 L759.1,646.6 L759.9,645.7 L760.8,640.2 L761.7,647.5 L762.6,646.3 L763.5,640.8 L764.4,639.9 L765.3,642.2 L766.2,640.3 L767.0,641.9 L767.9,646.8 L768.8,649.5 L769.7,647.4 L770.6,641.8 L771.5,645.0 L772.4,647.0 L773.3,647.3 L774.1,649.9 L775.0,646.1 L775.9,648.5 L776.8,644.2 L777.7,651.9 L778.6,645.5 L779.5,646.7 L780.3,651.4 L781.2,644.2 L782.1,645.3 L783.0,652.0 L783.9,649.6 L784.8,645.1 L785.7,646.2 L786.6,642.5 L787.4,641.5 L788.3,641.5 L789.2,642.6 L790.1,639.7 L791.0,641.0 L791.9,642.0 L792.8,650.6 L793.6,643.5 L794.5,640.0 L795.4,644.2 L796.3,646.0 L797.2,638.7 L798.1,648.6 L799.0,644.3 L799.9,636.7 L800.7,645.2 L801.6,642.6 L802.5,637.9 L803.4,643.0 L804.3,642.3 L805.2,641.0 L806.1,646.5 L807.0,645.5 L807.8,644.0 L808.7,641.8 L809.6,643.9 L810.5,645.1 L811.4,648.1 L812.3,646.9 L813.2,642.5 L814.0,643.7 L814.9,647.2 L815.8,648.2 L816.7,637.1 L817.6,638.7 L818.5,640.9 L819.4,652.0 L820.3,644.9 L821.1,643.2 L822.0,638.8 L822.9,641.6 L823.8,644.0 L824.7,642.8 L825.6,650.5 L826.5,643.1 L827.3,643.2 L828.2,646.6 L829.1,641.0 L830.0,637.8 L830.9,647.2 L831.8,647.7 L832.7,644.7 L833.6,644.2 L834.4,645.9 L835.3,648.3 L836.2,639.0 L837.1,639.7 L838.0,647.1 L838.9,649.9 L839.8,640.8 L840.7,640.4 L841.5,637.6 L842.4,640.0 L843.3,646.2 L844.2,644.4 L845.1,651.7 L846.0,649.3 L846.9,646.4 L847.7,643.6 L848.6,646.8 L849.5,645.9 L850.4,643.7 L851.3,643.3 L852.2,642.3 L853.1,643.4 L854.0,645.5 L854.8,642.5 L855.7,644.0 L856.6,647.3 L857.5,647.7 L858.4,645.7 L859.3,645.5 L860.2,644.6 L861.0,644.8 L861.9,644.3 L862.8,645.2 L863.7,649.1 L864.6,644.8 L865.5,641.5 L866.4,642.5 L867.3,644.8 L868.1,643.5 L869.0,647.6 L869.9,651.9 L870.8,646.9 L871.7,648.6 L872.6,643.7 L873.5,648.1 L874.3,653.2 L875.2,651.2 L876.1,641.7 L877.0,645.3 L877.9,649.5 L878.8,648.8 L879.7,644.5 L880.6,643.2 L881.4,643.9 L882.3,639.9 L883.2,641.2 L884.1,644.0 L885.0,642.8 L885.9,639.0 L886.8,640.1 L887.7,640.2 L888.5,647.1 L889.4,646.2 L890.3,643.0 L891.2,645.4 L892.1,641.7 L893.0,642.1 L893.9,641.3 L894.7,644.6 L895.6,636.7 L896.5,638.6 L897.4,643.8 L898.3,644.4 L899.2,636.5 L900.1,643.6 L901.0,641.8 L901.8,641.0 L902.7,643.9 L903.6,648.5 L904.5,645.5 L905.4,644.1 L906.3,641.2 L907.2,641.4 L908.0,644.0 L908.9,642.0 L909.8,642.5 L910.7,643.7 L911.6,644.5 L912.5,645.8 L913.4,643.1 L914.3,648.0 L915.1,648.1 L916.0,646.0 L916.9,650.2 L917.8,648.1 L918.7,652.6 L919.6,649.6 L920.5,644.7 L921.4,643.2 L922.2,644.8 L923.1,645.8 L924.0,650.0 L924.9,640.7 L925.8,642.2 L926.7,640.8 L927.6,646.8 L928.4,646.3 L929.3,651.5 L930.2,644.6 L931.1,642.0 L932.0,650.4 L932.9,647.0 L933.8,643.7 L934.7,650.5 L935.5,652.8 L936.4,651.0 L937.3,649.0 L938.2,651.0 L939.1,646.9 L940.0,645.0 L940.9,643.2 L941.7,642.4 L942.6,639.6 L943.5,639.8 L944.4,647.9 L945.3,647.7 L946.2,649.5 L947.1,650.1 L948.0,647.0 L948.8,645.8 L949.7,643.9 L950.6,650.1 L951.5,650.8 L952.4,647.1 L953.3,646.5 L954.2,646.7 L955.1,646.0 L955.9,648.0 L956.8,643.9 L957.7,643.8 L958.6,645.2 L959.5,647.5 L960.4,646.6 L961.3,653.2 L962.1,651.3 L963.0,647.1 L963.9,650.8 L964.8,646.4 L965.7,645.2 L966.6,649.8 L967.5,647.6 L968.4,647.1 L969.2,644.5 L970.1,643.2 L971.0,644.9 L971.9,648.0 L972.8,646.7 L973.7,646.1 L974.6,643.3 L975.4,643.9 L976.3,647.3 L977.2,650.4 L978.1,648.2 L979.0,648.7 L979.9,650.1 L980.8,647.2 L981.7,647.6 L982.5,645.8 L983.4,643.9 L984.3,646.4 L985.2,638.2 L986.1,644.4 L987.0,641.6 L987.9,644.0 L988.8,641.5 L989.6,652.0 L990.5,649.9 L991.4,646.1 L992.3,643.8 L993.2,637.5 L994.1,642.1 L995.0,640.4 L995.8,641.5 L996.7,641.3 L997.6,642.6 L998.5,645.2 L999.4,643.8 L1000.3,648.6 L1001.2,642.7 L1002.1,648.0 L1002.9,645.5 L1003.8,638.7 L1004.7,644.3 L1005.6,645.2" fill="none" stroke="#4a4a4a" stroke-width="1.25" stroke-linejoin="round"/>
<path d="M527.6,634.6 L528.5,640.6 L529.4,639.8 L530.3,637.5 L531.1,633.1 L532.0,636.0 L532.9,641.5 L533.8,638.0 L534.7,641.2 L535.6,635.8 L536.5,638.3 L537.4,633.7 L538.2,637.7 L539.1,641.5 L540.0,644.0 L540.9,641.9 L541.8,639.3 L542.7,636.6 L543.6,638.5 L544.4,641.7 L545.3,639.3 L546.2,643.9 L547.1,640.0 L548.0,642.2 L548.9,636.8 L549.8,636.6 L550.7,638.2 L551.5,642.5 L552.4,639.5 L553.3,639.1 L554.2,641.5 L555.1,642.4 L556.0,637.6 L556.9,640.6 L557.8,639.3 L558.6,636.3 L559.5,643.2 L560.4,636.5 L561.3,636.5 L562.2,641.0 L563.1,643.2 L564.0,644.6 L564.8,639.2 L565.7,647.1 L566.6,640.0 L567.5,639.9 L568.4,642.2 L569.3,642.4 L570.2,642.1 L571.1,641.7 L571.9,638.5 L572.8,642.2 L573.7,638.2 L574.6,637.2 L575.5,640.3 L576.4,638.9 L577.3,641.6 L578.1,640.8 L579.0,639.4 L579.9,635.1 L580.8,639.2 L581.7,640.7 L582.6,640.6 L583.5,641.2 L584.4,643.8 L585.2,636.6 L586.1,641.2 L587.0,642.5 L587.9,643.3 L588.8,639.7 L589.7,632.5 L590.6,630.2 L591.5,635.0 L592.3,638.2 L593.2,640.1 L594.1,643.4 L595.0,639.7 L595.9,640.8 L596.8,635.2 L597.7,640.0 L598.5,643.4 L599.4,646.7 L600.3,647.5 L601.2,641.3 L602.1,640.2 L603.0,643.9 L603.9,646.1 L604.8,641.8 L605.6,642.2 L606.5,640.8 L607.4,641.1 L608.3,643.2 L609.2,646.5 L610.1,642.4 L611.0,641.2 L611.8,640.7 L612.7,638.4 L613.6,637.8 L614.5,641.5 L615.4,639.7 L616.3,646.7 L617.2,641.0 L618.1,641.2 L618.9,638.5 L619.8,637.7 L620.7,642.8 L621.6,642.1 L622.5,638.5 L623.4,641.9 L624.3,641.3 L625.2,643.0 L626.0,640.2 L626.9,640.2 L627.8,643.2 L628.7,645.8 L629.6,648.7 L630.5,641.2 L631.4,642.5 L632.2,643.6 L633.1,643.4 L634.0,644.5 L634.9,640.4 L635.8,639.3 L636.7,646.8 L637.6,643.1 L638.5,641.6 L639.3,642.3 L640.2,641.3 L641.1,636.8 L642.0,639.1 L642.9,637.4 L643.8,637.4 L644.7,644.3 L645.5,637.4 L646.4,639.6 L647.3,641.6 L648.2,639.1 L649.1,634.6 L650.0,641.5 L650.9,643.3 L651.8,640.9 L652.6,646.1 L653.5,645.8 L654.4,642.6 L655.3,639.7 L656.2,639.4 L657.1,638.5 L658.0,637.5 L658.9,641.4 L659.7,642.3 L660.6,642.5 L661.5,642.6 L662.4,638.7 L663.3,638.2 L664.2,646.1 L665.1,641.5 L665.9,644.3 L666.8,645.3 L667.7,639.0 L668.6,637.1 L669.5,636.9 L670.4,638.2 L671.3,635.5 L672.2,642.8 L673.0,639.5 L673.9,642.7 L674.8,643.5 L675.7,646.5 L676.6,638.8 L677.5,635.7 L678.4,637.3 L679.2,641.8 L680.1,641.0 L681.0,644.2 L681.9,643.0 L682.8,637.7 L683.7,635.9 L684.6,637.9 L685.5,638.2 L686.3,640.8 L687.2,640.2 L688.1,641.5 L689.0,640.1 L689.9,642.8 L690.8,639.1 L691.7,641.4 L692.5,640.9 L693.4,641.6 L694.3,637.3 L695.2,637.7 L696.1,642.5 L697.0,644.4 L697.9,640.7 L698.8,640.9 L699.6,642.0 L700.5,641.0 L701.4,636.8 L702.3,640.3 L703.2,637.2 L704.1,641.5 L705.0,642.1 L705.9,640.8 L706.7,641.5 L707.6,642.8 L708.5,644.8 L709.4,643.4 L710.3,643.2 L711.2,642.0 L712.1,638.8 L712.9,639.2 L713.8,637.6 L714.7,639.8 L715.6,639.7 L716.5,639.2 L717.4,638.8 L718.3,637.9 L719.2,641.9 L720.0,640.4 L720.9,640.6 L721.8,637.9 L722.7,638.1 L723.6,642.0 L724.5,640.5 L725.4,639.2 L726.2,640.7 L727.1,637.8 L728.0,639.7 L728.9,644.4 L729.8,641.5 L730.7,639.4 L731.6,643.1 L732.5,640.1 L733.3,648.6 L734.2,638.1 L735.1,644.3 L736.0,643.7 L736.9,643.1 L737.8,645.9 L738.7,642.0 L739.6,644.2 L740.4,646.0 L741.3,649.2 L742.2,642.0 L743.1,638.5 L744.0,641.4 L744.9,640.9 L745.8,637.0 L746.6,639.1 L747.5,637.7 L748.4,637.7 L749.3,638.4 L750.2,639.2 L751.1,637.6 L752.0,639.6 L752.9,640.4 L753.7,642.9 L754.6,647.3 L755.5,645.4 L756.4,643.1 L757.3,638.6 L758.2,641.0 L759.1,646.1 L759.9,640.3 L760.8,636.9 L761.7,638.4 L762.6,638.8 L763.5,638.9 L764.4,639.8 L765.3,636.0 L766.2,640.9 L767.0,642.1 L767.9,644.3 L768.8,642.3 L769.7,642.1 L770.6,641.9 L771.5,639.4 L772.4,636.3 L773.3,641.9 L774.1,639.4 L775.0,640.8 L775.9,641.1 L776.8,640.5 L777.7,638.0 L778.6,642.7 L779.5,635.4 L780.3,637.5 L781.2,639.9 L782.1,642.9 L783.0,636.5 L783.9,635.6 L784.8,634.8 L785.7,636.6 L786.6,632.7 L787.4,632.1 L788.3,630.3 L789.2,634.7 L790.1,634.3 L791.0,637.9 L791.9,637.6 L792.8,638.7 L793.6,638.0 L794.5,637.8 L795.4,637.8 L796.3,637.9 L797.2,637.5 L798.1,639.0 L799.0,640.2 L799.9,639.9 L800.7,636.8 L801.6,635.6 L802.5,634.3 L803.4,630.2 L804.3,638.5 L805.2,635.8 L806.1,640.9 L807.0,640.5 L807.8,641.0 L808.7,638.7 L809.6,634.6 L810.5,632.8 L811.4,635.5 L812.3,634.6 L813.2,635.8 L814.0,640.8 L814.9,634.3 L815.8,638.6 L816.7,639.7 L817.6,638.7 L818.5,640.9 L819.4,640.7 L820.3,636.8 L821.1,640.3 L822.0,640.5 L822.9,643.5 L823.8,644.9 L824.7,639.2 L825.6,637.3 L826.5,638.8 L827.3,633.6 L828.2,639.5 L829.1,637.1 L830.0,639.8 L830.9,638.7 L831.8,636.9 L832.7,641.5 L833.6,635.4 L834.4,637.6 L835.3,637.8 L836.2,638.5 L837.1,637.3 L838.0,641.3 L838.9,642.4 L839.8,638.4 L840.7,638.8 L841.5,639.4 L842.4,637.7 L843.3,633.7 L844.2,639.6 L845.1,645.3 L846.0,641.2 L846.9,643.8 L847.7,640.5 L848.6,641.5 L849.5,639.1 L850.4,633.3 L851.3,637.0 L852.2,642.4 L853.1,642.5 L854.0,642.4 L854.8,643.4 L855.7,638.5 L856.6,637.8 L857.5,635.3 L858.4,635.1 L859.3,637.6 L860.2,639.6 L861.0,640.0 L861.9,638.9 L862.8,640.3 L863.7,643.2 L864.6,633.3 L865.5,632.9 L866.4,637.4 L867.3,639.3 L868.1,639.6 L869.0,637.4 L869.9,638.9 L870.8,644.5 L871.7,639.4 L872.6,637.1 L873.5,641.7 L874.3,643.2 L875.2,640.0 L876.1,641.8 L877.0,636.5 L877.9,635.4 L878.8,642.2 L879.7,638.2 L880.6,642.3 L881.4,641.5 L882.3,635.6 L883.2,638.2 L884.1,636.5 L885.0,639.0 L885.9,633.0 L886.8,636.7 L887.7,629.5 L888.5,634.1 L889.4,638.0 L890.3,638.0 L891.2,639.0 L892.1,634.3 L893.0,640.0 L893.9,636.4 L894.7,633.7 L895.6,633.9 L896.5,640.7 L897.4,635.4 L898.3,635.1 L899.2,634.2 L900.1,639.9 L901.0,638.3 L901.8,635.1 L902.7,637.0 L903.6,637.4 L904.5,639.2 L905.4,639.1 L906.3,638.5 L907.2,631.3 L908.0,636.6 L908.9,639.2 L909.8,641.5 L910.7,638.1 L911.6,637.8 L912.5,639.6 L913.4,643.4 L914.3,634.6 L915.1,637.7 L916.0,640.2 L916.9,638.2 L917.8,640.8 L918.7,639.8 L919.6,644.3 L920.5,641.8 L921.4,646.8 L922.2,638.8 L923.1,638.8 L924.0,639.4 L924.9,638.9 L925.8,642.6 L926.7,639.9 L927.6,639.1 L928.4,636.4 L929.3,640.1 L930.2,640.6 L931.1,639.5 L932.0,638.4 L932.9,638.4 L933.8,637.9 L934.7,636.1 L935.5,637.3 L936.4,637.4 L937.3,638.8 L938.2,642.8 L939.1,638.4 L940.0,639.8 L940.9,639.4 L941.7,642.4 L942.6,635.1 L943.5,634.6 L944.4,638.5 L945.3,637.2 L946.2,635.7 L947.1,632.1 L948.0,636.2 L948.8,635.3 L949.7,640.0 L950.6,639.8 L951.5,639.6 L952.4,639.9 L953.3,642.2 L954.2,638.2 L955.1,641.2 L955.9,641.9 L956.8,640.1 L957.7,635.2 L958.6,634.6 L959.5,637.9 L960.4,641.6 L961.3,643.6 L962.1,640.2 L963.0,637.0 L963.9,635.9 L964.8,638.2 L965.7,640.9 L966.6,638.2 L967.5,635.1 L968.4,637.7 L969.2,637.1 L970.1,639.2 L971.0,639.5 L971.9,635.1 L972.8,639.2 L973.7,635.2 L974.6,638.7 L975.4,638.8 L976.3,636.5 L977.2,636.2 L978.1,639.6 L979.0,639.3 L979.9,638.9 L980.8,638.6 L981.7,638.9 L982.5,636.5 L983.4,640.8 L984.3,637.0 L985.2,635.6 L986.1,641.2 L987.0,639.6 L987.9,641.2 L988.8,643.8 L989.6,640.1 L990.5,637.6 L991.4,639.6 L992.3,638.1 L993.2,638.5 L994.1,644.1 L995.0,640.9 L995.8,636.7 L996.7,634.3 L997.6,640.8 L998.5,643.6 L999.4,639.2 L1000.3,639.6 L1001.2,638.6 L1002.1,640.1 L1002.9,637.2 L1003.8,636.4 L1004.7,639.1 L1005.6,638.8" fill="none" stroke="#1a2cff" stroke-width="1.25" stroke-linejoin="round"/>
<path d="M527.6,612.2 L528.5,608.8 L529.4,615.3 L530.3,611.7 L531.1,614.9 L532.0,616.6 L532.9,610.3 L533.8,614.2 L534.7,616.8 L535.6,615.6 L536.5,614.2 L537.4,617.7 L538.2,616.6 L539.1,621.4 L540.0,621.0 L540.9,621.0 L541.8,623.9 L542.7,625.5 L543.6,626.4 L544.4,621.9 L545.3,619.7 L546.2,619.1 L547.1,617.5 L548.0,621.4 L548.9,618.6 L549.8,616.2 L550.7,613.3 L551.5,617.5 L552.4,617.5 L553.3,622.9 L554.2,619.7 L555.1,624.1 L556.0,623.0 L556.9,613.8 L557.8,621.3 L558.6,613.9 L559.5,612.4 L560.4,613.8 L561.3,611.6 L562.2,610.3 L563.1,607.9 L564.0,611.1 L564.8,613.5 L565.7,614.3 L566.6,615.8 L567.5,613.1 L568.4,614.3 L569.3,608.4 L570.2,615.9 L571.1,616.1 L571.9,615.5 L572.8,619.0 L573.7,606.6 L574.6,616.3 L575.5,612.7 L576.4,612.0 L577.3,604.1 L578.1,613.3 L579.0,606.4 L579.9,609.7 L580.8,608.9 L581.7,610.3 L582.6,606.2 L583.5,610.5 L584.4,608.5 L585.2,606.1 L586.1,600.0 L587.0,611.9 L587.9,603.1 L588.8,601.4 L589.7,605.6 L590.6,604.4 L591.5,606.4 L592.3,599.9 L593.2,602.1 L594.1,604.3 L595.0,605.1 L595.9,605.2 L596.8,605.0 L597.7,607.3 L598.5,598.0 L599.4,607.7 L600.3,617.3 L601.2,609.1 L602.1,605.8 L603.0,602.6 L603.9,603.1 L604.8,603.0 L605.6,601.2 L606.5,598.2 L607.4,601.7 L608.3,602.8 L609.2,595.3 L610.1,597.0 L611.0,602.7 L611.8,593.6 L612.7,595.2 L613.6,600.4 L614.5,604.4 L615.4,600.9 L616.3,603.2 L617.2,604.9 L618.1,606.2 L618.9,604.0 L619.8,597.5 L620.7,600.1 L621.6,604.5 L622.5,598.9 L623.4,598.7 L624.3,595.8 L625.2,593.4 L626.0,597.0 L626.9,598.2 L627.8,598.3 L628.7,602.0 L629.6,597.2 L630.5,592.8 L631.4,595.0 L632.2,597.2 L633.1,598.1 L634.0,600.2 L634.9,601.0 L635.8,599.8 L636.7,600.8 L637.6,599.7 L638.5,603.1 L639.3,597.7 L640.2,596.6 L641.1,600.1 L642.0,605.4 L642.9,599.6 L643.8,593.4 L644.7,597.1 L645.5,597.7 L646.4,598.1 L647.3,594.0 L648.2,597.7 L649.1,592.5 L650.0,594.8 L650.9,591.5 L651.8,593.1 L652.6,594.6 L653.5,599.3 L654.4,598.5 L655.3,596.6 L656.2,592.6 L657.1,592.3 L658.0,595.4 L658.9,592.7 L659.7,589.6 L660.6,592.2 L661.5,594.1 L662.4,594.7 L663.3,590.7 L664.2,590.0 L665.1,594.6 L665.9,591.9 L666.8,593.7 L667.7,595.3 L668.6,589.0 L669.5,587.8 L670.4,592.6 L671.3,591.7 L672.2,589.8 L673.0,593.0 L673.9,592.4 L674.8,589.4 L675.7,596.6 L676.6,592.2 L677.5,589.0 L678.4,588.5 L679.2,594.5 L680.1,591.2 L681.0,593.9 L681.9,590.0 L682.8,588.3 L683.7,588.9 L684.6,592.5 L685.5,593.3 L686.3,588.6 L687.2,592.7 L688.1,589.5 L689.0,588.1 L689.9,590.3 L690.8,581.9 L691.7,586.5 L692.5,581.2 L693.4,593.2 L694.3,598.8 L695.2,590.0 L696.1,587.6 L697.0,589.8 L697.9,589.8 L698.8,596.0 L699.6,594.2 L700.5,594.7 L701.4,592.2 L702.3,587.3 L703.2,588.1 L704.1,587.2 L705.0,590.3 L705.9,590.5 L706.7,588.6 L707.6,589.1 L708.5,583.8 L709.4,588.9 L710.3,581.4 L711.2,588.0 L712.1,583.6 L712.9,587.9 L713.8,581.3 L714.7,583.6 L715.6,583.6 L716.5,582.2 L717.4,586.3 L718.3,589.1 L719.2,593.5 L720.0,584.1 L720.9,586.7 L721.8,587.2 L722.7,585.4 L723.6,577.6 L724.5,587.1 L725.4,584.0 L726.2,584.8 L727.1,581.9 L728.0,588.5 L728.9,586.3 L729.8,581.0 L730.7,576.3 L731.6,574.1 L732.5,581.5 L733.3,581.3 L734.2,581.6 L735.1,586.2 L736.0,588.8 L736.9,582.6 L737.8,582.3 L738.7,583.8 L739.6,580.0 L740.4,586.5 L741.3,584.1 L742.2,585.3 L743.1,586.3 L744.0,585.2 L744.9,586.1 L745.8,586.5 L746.6,587.0 L747.5,581.8 L748.4,587.7 L749.3,585.9 L750.2,586.9 L751.1,591.0 L752.0,589.3 L752.9,594.9 L753.7,590.7 L754.6,596.3 L755.5,598.0 L756.4,596.4 L757.3,594.5 L758.2,594.0 L759.1,594.4 L759.9,598.9 L760.8,603.7 L761.7,601.1 L762.6,601.4 L763.5,606.3 L764.4,602.6 L765.3,604.5 L766.2,610.0 L767.0,608.2 L767.9,614.2 L768.8,615.9 L769.7,612.9 L770.6,619.2 L771.5,617.0 L772.4,621.6 L773.3,617.1 L774.1,621.0 L775.0,620.2 L775.9,626.4 L776.8,625.3 L777.7,620.9 L778.6,621.3 L779.5,629.8 L780.3,624.2 L781.2,622.5 L782.1,626.6 L783.0,622.6 L783.9,630.0 L784.8,630.0 L785.7,626.4 L786.6,624.8 L787.4,624.7 L788.3,633.2 L789.2,639.5 L790.1,635.0 L791.0,639.6 L791.9,637.0 L792.8,640.0 L793.6,633.4 L794.5,631.7 L795.4,632.0 L796.3,634.1 L797.2,634.9 L798.1,636.6 L799.0,635.0 L799.9,635.0 L800.7,634.3 L801.6,637.3 L802.5,630.6 L803.4,633.6 L804.3,631.1 L805.2,630.4 L806.1,637.8 L807.0,643.7 L807.8,636.1 L808.7,638.8 L809.6,638.4 L810.5,639.5 L811.4,638.7 L812.3,643.0 L813.2,641.2 L814.0,641.8 L814.9,640.5 L815.8,648.0 L816.7,640.3 L817.6,638.9 L818.5,645.4 L819.4,644.7 L820.3,641.8 L821.1,638.7 L822.0,639.6 L822.9,635.3 L823.8,638.3 L824.7,643.0 L825.6,643.9 L826.5,639.4 L827.3,642.3 L828.2,638.5 L829.1,636.4 L830.0,637.1 L830.9,636.0 L831.8,639.7 L832.7,640.6 L833.6,643.0 L834.4,644.1 L835.3,647.9 L836.2,646.0 L837.1,647.0 L838.0,648.7 L838.9,644.0 L839.8,641.2 L840.7,642.8 L841.5,637.6 L842.4,637.1 L843.3,636.6 L844.2,642.0 L845.1,647.3 L846.0,642.5 L846.9,641.4 L847.7,639.5 L848.6,639.8 L849.5,637.1 L850.4,641.3 L851.3,639.7 L852.2,644.5 L853.1,651.2 L854.0,647.5 L854.8,639.4 L855.7,647.0 L856.6,640.9 L857.5,644.2 L858.4,644.6 L859.3,643.3 L860.2,642.2 L861.0,645.8 L861.9,643.5 L862.8,641.5 L863.7,639.4 L864.6,644.0 L865.5,637.9 L866.4,634.3 L867.3,631.1 L868.1,642.7 L869.0,642.2 L869.9,648.9 L870.8,644.0 L871.7,641.4 L872.6,646.2 L873.5,649.6 L874.3,645.0 L875.2,641.6 L876.1,645.1 L877.0,644.7 L877.9,652.3 L878.8,649.1 L879.7,644.9 L880.6,643.3 L881.4,637.7 L882.3,644.8 L883.2,651.5 L884.1,644.9 L885.0,645.8 L885.9,643.2 L886.8,640.7 L887.7,640.1 L888.5,637.0 L889.4,636.1 L890.3,646.0 L891.2,644.6 L892.1,636.9 L893.0,642.1 L893.9,639.5 L894.7,641.9 L895.6,644.2 L896.5,638.2 L897.4,637.7 L898.3,641.9 L899.2,639.7 L900.1,646.4 L901.0,647.1 L901.8,641.8 L902.7,642.6 L903.6,646.7 L904.5,643.2 L905.4,642.2 L906.3,638.6 L907.2,638.3 L908.0,642.4 L908.9,644.7 L909.8,644.5 L910.7,644.7 L911.6,639.0 L912.5,636.3 L913.4,636.1 L914.3,639.3 L915.1,642.7 L916.0,640.2 L916.9,643.5 L917.8,642.8 L918.7,649.0 L919.6,647.3 L920.5,640.2 L921.4,645.9 L922.2,649.7 L923.1,646.7 L924.0,639.3 L924.9,637.0 L925.8,642.3 L926.7,644.9 L927.6,644.6 L928.4,647.4 L929.3,645.2 L930.2,645.4 L931.1,649.6 L932.0,648.2 L932.9,646.5 L933.8,647.9 L934.7,649.4 L935.5,643.1 L936.4,637.2 L937.3,642.3 L938.2,644.8 L939.1,642.6 L940.0,644.3 L940.9,646.9 L941.7,640.5 L942.6,646.2 L943.5,647.5 L944.4,647.8 L945.3,648.6 L946.2,646.8 L947.1,643.3 L948.0,638.9 L948.8,639.8 L949.7,642.4 L950.6,647.8 L951.5,645.9 L952.4,648.2 L953.3,646.2 L954.2,641.7 L955.1,642.6 L955.9,644.4 L956.8,647.0 L957.7,645.5 L958.6,644.5 L959.5,647.6 L960.4,647.5 L961.3,642.6 L962.1,649.4 L963.0,648.0 L963.9,649.9 L964.8,641.4 L965.7,641.2 L966.6,641.5 L967.5,642.0 L968.4,642.6 L969.2,642.8 L970.1,649.3 L971.0,645.6 L971.9,643.0 L972.8,648.9 L973.7,643.6 L974.6,642.0 L975.4,648.8 L976.3,648.0 L977.2,647.1 L978.1,647.5 L979.0,644.5 L979.9,649.1 L980.8,647.3 L981.7,645.0 L982.5,642.5 L983.4,643.7 L984.3,645.3 L985.2,642.7 L986.1,650.8 L987.0,644.1 L987.9,645.7 L988.8,649.5 L989.6,648.3 L990.5,652.6 L991.4,653.2 L992.3,650.1 L993.2,649.7 L994.1,644.4 L995.0,647.8 L995.8,650.6 L996.7,650.6 L997.6,641.4 L998.5,643.6 L999.4,646.6 L1000.3,649.1 L1001.2,650.5 L1002.1,647.9 L1002.9,644.8 L1003.8,641.1 L1004.7,639.7 L1005.6,642.1" fill="none" stroke="#ff1414" stroke-width="1.25" stroke-linejoin="round"/>
<path d="M527.6,574.1 L528.5,591.2 L529.4,589.2 L530.3,590.8 L531.1,586.7 L532.0,602.0 L532.9,599.9 L533.8,602.1 L534.7,605.6 L535.6,605.3 L536.5,601.5 L537.4,598.0 L538.2,600.6 L539.1,591.0 L540.0,594.3 L540.9,613.6 L541.8,586.9 L542.7,589.5 L543.6,592.1 L544.4,584.7 L545.3,582.0 L546.2,581.7 L547.1,587.8 L548.0,582.3 L548.9,593.1 L549.8,574.9 L550.7,588.9 L551.5,585.5 L552.4,582.8 L553.3,580.6 L554.2,583.3 L555.1,578.8 L556.0,607.2 L556.9,591.2 L557.8,586.8 L558.6,587.4 L559.5,573.5 L560.4,587.3 L561.3,585.1 L562.2,598.5 L563.1,585.8 L564.0,595.8 L564.8,598.4 L565.7,570.7 L566.6,574.4 L567.5,580.7 L568.4,581.2 L569.3,593.1 L570.2,593.9 L571.1,583.4 L571.9,598.7 L572.8,585.9 L573.7,596.7 L574.6,586.4 L575.5,563.9 L576.4,573.2 L577.3,572.8 L578.1,583.9 L579.0,597.2 L579.9,593.2 L580.8,586.7 L581.7,591.5 L582.6,583.7 L583.5,576.1 L584.4,581.5 L585.2,585.9 L586.1,578.3 L587.0,583.9 L587.9,577.3 L588.8,583.8 L589.7,571.6 L590.6,581.8 L591.5,590.6 L592.3,584.9 L593.2,588.6 L594.1,592.0 L595.0,587.2 L595.9,579.5 L596.8,598.5 L597.7,588.9 L598.5,586.8 L599.4,586.3 L600.3,579.2 L601.2,592.7 L602.1,582.4 L603.0,585.9 L603.9,584.5 L604.8,586.7 L605.6,588.2 L606.5,590.1 L607.4,584.0 L608.3,569.8 L609.2,573.3 L610.1,575.9 L611.0,578.9 L611.8,587.5 L612.7,582.2 L613.6,570.0 L614.5,590.9 L615.4,581.9 L616.3,577.9 L617.2,582.1 L618.1,579.7 L618.9,574.7 L619.8,567.3 L620.7,571.7 L621.6,570.6 L622.5,580.0 L623.4,579.3 L624.3,583.9 L625.2,584.5 L626.0,590.3 L626.9,583.7 L627.8,576.2 L628.7,585.8 L629.6,585.7 L630.5,583.1 L631.4,586.8 L632.2,581.3 L633.1,584.7 L634.0,596.2 L634.9,598.7 L635.8,586.7 L636.7,583.9 L637.6,579.7 L638.5,584.7 L639.3,586.7 L640.2,600.2 L641.1,582.8 L642.0,594.4 L642.9,583.7 L643.8,596.4 L644.7,596.8 L645.5,591.1 L646.4,593.6 L647.3,596.5 L648.2,585.8 L649.1,584.2 L650.0,585.9 L650.9,591.8 L651.8,597.1 L652.6,596.3 L653.5,596.4 L654.4,592.9 L655.3,586.2 L656.2,591.0 L657.1,597.0 L658.0,597.6 L658.9,584.1 L659.7,588.2 L660.6,589.0 L661.5,589.0 L662.4,586.8 L663.3,589.4 L664.2,582.8 L665.1,583.5 L665.9,610.2 L666.8,598.7 L667.7,573.0 L668.6,596.0 L669.5,592.7 L670.4,584.9 L671.3,590.5 L672.2,582.5 L673.0,599.1 L673.9,604.0 L674.8,597.9 L675.7,600.1 L676.6,603.3 L677.5,592.4 L678.4,591.4 L679.2,593.1 L680.1,596.7 L681.0,593.0 L681.9,594.7 L682.8,599.7 L683.7,592.4 L684.6,591.2 L685.5,593.1 L686.3,589.3 L687.2,599.6 L688.1,597.3 L689.0,598.8 L689.9,588.7 L690.8,590.5 L691.7,581.8 L692.5,582.5 L693.4,593.9 L694.3,601.6 L695.2,594.9 L696.1,597.4 L697.0,597.5 L697.9,602.9 L698.8,595.0 L699.6,595.1 L700.5,593.9 L701.4,594.2 L702.3,601.4 L703.2,611.3 L704.1,603.0 L705.0,602.7 L705.9,602.1 L706.7,593.4 L707.6,597.0 L708.5,588.9 L709.4,594.2 L710.3,593.0 L711.2,593.7 L712.1,592.1 L712.9,603.6 L713.8,593.5 L714.7,596.1 L715.6,603.1 L716.5,596.1 L717.4,595.5 L718.3,589.9 L719.2,591.4 L720.0,594.0 L720.9,606.3 L721.8,590.9 L722.7,587.4 L723.6,590.4 L724.5,593.1 L725.4,589.6 L726.2,600.5 L727.1,594.8 L728.0,597.0 L728.9,603.5 L729.8,597.6 L730.7,595.9 L731.6,587.6 L732.5,589.5 L733.3,604.8 L734.2,611.4 L735.1,602.5 L736.0,600.6 L736.9,604.3 L737.8,608.3 L738.7,602.3 L739.6,606.0 L740.4,604.5 L741.3,595.0 L742.2,595.8 L743.1,601.8 L744.0,605.7 L744.9,601.5 L745.8,589.1 L746.6,598.3 L747.5,588.2 L748.4,599.7 L749.3,599.8 L750.2,594.6 L751.1,601.0 L752.0,597.3 L752.9,569.3 L753.7,593.2 L754.6,586.5 L755.5,594.2 L756.4,591.0 L757.3,592.8 L758.2,602.7 L759.1,577.1 L759.9,581.6 L760.8,581.7 L761.7,584.1 L762.6,585.9 L763.5,573.7 L764.4,594.0 L765.3,591.3 L766.2,590.9 L767.0,589.5 L767.9,583.7 L768.8,590.0 L769.7,595.2 L770.6,595.5 L771.5,586.3 L772.4,580.5 L773.3,579.5 L774.1,574.5 L775.0,585.1 L775.9,579.4 L776.8,579.3 L777.7,584.0 L778.6,588.7 L779.5,580.6 L780.3,587.0 L781.2,586.5 L782.1,590.2 L783.0,575.4 L783.9,581.3 L784.8,585.4 L785.7,585.1 L786.6,584.7 L787.4,582.7 L788.3,592.3 L789.2,591.9 L790.1,582.0 L791.0,575.8 L791.9,586.3 L792.8,583.1 L793.6,586.3 L794.5,597.3 L795.4,589.4 L796.3,591.7 L797.2,581.3 L798.1,584.6 L799.0,584.8 L799.9,593.3 L800.7,586.7 L801.6,597.0 L802.5,587.8 L803.4,578.5 L804.3,590.9 L805.2,582.9 L806.1,577.5 L807.0,585.3 L807.8,580.2 L808.7,584.9 L809.6,589.8 L810.5,600.1 L811.4,598.1 L812.3,600.0 L813.2,578.5 L814.0,584.4 L814.9,588.8 L815.8,597.0 L816.7,581.9 L817.6,594.0 L818.5,582.5 L819.4,581.5 L820.3,587.1 L821.1,593.1 L822.0,591.5 L822.9,598.4 L823.8,589.2 L824.7,580.6 L825.6,582.7 L826.5,582.5 L827.3,592.6 L828.2,590.0 L829.1,596.9 L830.0,595.8 L830.9,588.8 L831.8,576.5 L832.7,587.0 L833.6,590.4 L834.4,602.7 L835.3,594.5 L836.2,598.4 L837.1,602.5 L838.0,604.4 L838.9,595.6 L839.8,596.2 L840.7,590.2 L841.5,593.8 L842.4,593.7 L843.3,585.2 L844.2,586.6 L845.1,587.3 L846.0,583.6 L846.9,590.1 L847.7,597.6 L848.6,599.0 L849.5,602.9 L850.4,595.4 L851.3,596.6 L852.2,592.8 L853.1,590.2 L854.0,596.8 L854.8,594.3 L855.7,588.7 L856.6,592.3 L857.5,589.6 L858.4,593.8 L859.3,598.5 L860.2,596.7 L861.0,603.6 L861.9,593.9 L862.8,596.5 L863.7,588.9 L864.6,598.3 L865.5,594.9 L866.4,592.9 L867.3,594.8 L868.1,592.7 L869.0,597.2 L869.9,600.0 L870.8,602.4 L871.7,599.2 L872.6,599.4 L873.5,594.7 L874.3,596.0 L875.2,597.7 L876.1,598.6 L877.0,604.1 L877.9,598.8 L878.8,593.7 L879.7,600.1 L880.6,597.1 L881.4,591.9 L882.3,596.6 L883.2,594.0 L884.1,596.0 L885.0,583.5 L885.9,584.6 L886.8,585.8 L887.7,594.7 L888.5,591.3 L889.4,594.0 L890.3,592.4 L891.2,596.1 L892.1,593.9 L893.0,597.5 L893.9,593.7 L894.7,585.9 L895.6,597.8 L896.5,601.1 L897.4,593.8 L898.3,590.3 L899.2,594.5 L900.1,591.4 L901.0,591.2 L901.8,590.6 L902.7,586.6 L903.6,594.6 L904.5,591.1 L905.4,592.1 L906.3,596.5 L907.2,592.3 L908.0,599.3 L908.9,602.2 L909.8,591.4 L910.7,598.1 L911.6,587.4 L912.5,587.1 L913.4,594.1 L914.3,597.9 L915.1,605.2 L916.0,597.5 L916.9,602.3 L917.8,589.1 L918.7,600.0 L919.6,595.3 L920.5,606.7 L921.4,599.2 L922.2,589.2 L923.1,594.4 L924.0,597.6 L924.9,597.0 L925.8,592.9 L926.7,589.3 L927.6,593.4 L928.4,603.0 L929.3,595.0 L930.2,589.5 L931.1,581.8 L932.0,589.3 L932.9,591.5 L933.8,595.4 L934.7,590.7 L935.5,584.5 L936.4,595.4 L937.3,593.7 L938.2,598.3 L939.1,598.1 L940.0,595.7 L940.9,591.9 L941.7,596.8 L942.6,595.8 L943.5,587.9 L944.4,589.4 L945.3,589.0 L946.2,590.3 L947.1,593.3 L948.0,591.4 L948.8,590.4 L949.7,592.5 L950.6,588.4 L951.5,591.8 L952.4,588.7 L953.3,591.9 L954.2,589.5 L955.1,595.3 L955.9,596.5 L956.8,599.6 L957.7,589.6 L958.6,589.8 L959.5,591.3 L960.4,589.8 L961.3,596.0 L962.1,593.6 L963.0,595.7 L963.9,602.5 L964.8,597.2 L965.7,598.4 L966.6,588.2 L967.5,595.1 L968.4,596.6 L969.2,589.7 L970.1,592.1 L971.0,599.0 L971.9,593.8 L972.8,596.8 L973.7,586.3 L974.6,595.9 L975.4,597.4 L976.3,607.0 L977.2,600.3 L978.1,586.6 L979.0,591.7 L979.9,597.0 L980.8,592.9 L981.7,594.3 L982.5,593.6 L983.4,581.7 L984.3,580.3 L985.2,581.8 L986.1,581.9 L987.0,593.9 L987.9,602.2 L988.8,592.3 L989.6,590.9 L990.5,592.1 L991.4,593.2 L992.3,589.7 L993.2,589.3 L994.1,590.6 L995.0,589.9 L995.8,592.9 L996.7,594.6 L997.6,586.9 L998.5,592.2 L999.4,583.4 L1000.3,587.0 L1001.2,590.7 L1002.1,587.0 L1002.9,593.3 L1003.8,593.8 L1004.7,594.6 L1005.6,593.3" fill="none" stroke="#0f7d0f" stroke-width="1.25" stroke-linejoin="round"/>
<path d="M527.6,637.5 L528.5,638.5 L529.4,633.7 L530.3,640.8 L531.1,636.8 L532.0,641.8 L532.9,633.7 L533.8,633.9 L534.7,630.7 L535.6,635.2 L536.5,634.0 L537.4,635.7 L538.2,637.6 L539.1,635.7 L540.0,639.2 L540.9,637.7 L541.8,634.3 L542.7,635.2 L543.6,636.9 L544.4,629.9 L545.3,634.0 L546.2,637.1 L547.1,635.9 L548.0,637.5 L548.9,637.6 L549.8,637.6 L550.7,630.8 L551.5,634.5 L552.4,635.2 L553.3,634.0 L554.2,629.8 L555.1,635.0 L556.0,637.8 L556.9,629.7 L557.8,638.6 L558.6,638.2 L559.5,635.1 L560.4,629.5 L561.3,637.2 L562.2,643.8 L563.1,636.9 L564.0,638.2 L564.8,638.3 L565.7,635.9 L566.6,635.8 L567.5,635.7 L568.4,637.7 L569.3,633.4 L570.2,631.5 L571.1,635.2 L571.9,637.7 L572.8,635.1 L573.7,635.1 L574.6,639.4 L575.5,639.1 L576.4,634.7 L577.3,636.7 L578.1,638.0 L579.0,636.8 L579.9,637.2 L580.8,637.3 L581.7,642.8 L582.6,633.9 L583.5,635.8 L584.4,639.4 L585.2,635.2 L586.1,635.9 L587.0,637.0 L587.9,634.3 L588.8,630.1 L589.7,633.7 L590.6,631.9 L591.5,629.7 L592.3,638.2 L593.2,639.4 L594.1,636.0 L595.0,642.2 L595.9,639.9 L596.8,634.7 L597.7,633.9 L598.5,635.0 L599.4,642.5 L600.3,632.6 L601.2,634.8 L602.1,634.8 L603.0,635.7 L603.9,642.3 L604.8,643.5 L605.6,643.3 L606.5,634.2 L607.4,639.4 L608.3,639.3 L609.2,639.3 L610.1,637.0 L611.0,636.5 L611.8,637.0 L612.7,641.6 L613.6,648.4 L614.5,641.0 L615.4,638.5 L616.3,635.0 L617.2,637.8 L618.1,640.1 L618.9,637.9 L619.8,642.9 L620.7,643.0 L621.6,642.9 L622.5,639.2 L623.4,632.9 L624.3,634.8 L625.2,634.3 L626.0,636.7 L626.9,637.3 L627.8,639.6 L628.7,639.8 L629.6,646.0 L630.5,644.3 L631.4,644.1 L632.2,637.9 L633.1,636.5 L634.0,634.7 L634.9,632.9 L635.8,637.8 L636.7,635.3 L637.6,631.9 L638.5,636.6 L639.3,634.8 L640.2,637.9 L641.1,643.0 L642.0,639.5 L642.9,641.1 L643.8,639.0 L644.7,639.9 L645.5,638.0 L646.4,644.4 L647.3,634.2 L648.2,633.2 L649.1,637.8 L650.0,640.8 L650.9,639.1 L651.8,636.6 L652.6,636.6 L653.5,636.6 L654.4,643.5 L655.3,643.1 L656.2,635.9 L657.1,636.9 L658.0,642.2 L658.9,641.9 L659.7,643.5 L660.6,642.7 L661.5,636.2 L662.4,638.2 L663.3,634.9 L664.2,636.6 L665.1,642.1 L665.9,641.2 L666.8,632.4 L667.7,638.6 L668.6,641.3 L669.5,635.4 L670.4,637.0 L671.3,637.8 L672.2,633.7 L673.0,641.9 L673.9,637.9 L674.8,641.1 L675.7,643.0 L676.6,641.9 L677.5,635.8 L678.4,637.7 L679.2,643.3 L680.1,642.8 L681.0,634.9 L681.9,634.0 L682.8,639.9 L683.7,631.3 L684.6,637.0 L685.5,641.1 L686.3,639.2 L687.2,635.5 L688.1,632.4 L689.0,633.1 L689.9,637.6 L690.8,639.4 L691.7,642.5 L692.5,639.4 L693.4,640.0 L694.3,637.7 L695.2,641.4 L696.1,640.3 L697.0,641.1 L697.9,642.2 L698.8,642.5 L699.6,642.1 L700.5,642.4 L701.4,637.4 L702.3,637.2 L703.2,641.4 L704.1,637.2 L705.0,636.6 L705.9,632.9 L706.7,636.7 L707.6,637.9 L708.5,639.6 L709.4,637.8 L710.3,636.1 L711.2,636.5 L712.1,637.9 L712.9,635.9 L713.8,636.7 L714.7,636.5 L715.6,639.9 L716.5,637.5 L717.4,640.3 L718.3,640.7 L719.2,637.9 L720.0,631.3 L720.9,632.6 L721.8,635.9 L722.7,637.4 L723.6,634.4 L724.5,632.3 L725.4,632.2 L726.2,636.3 L727.1,636.4 L728.0,637.9 L728.9,638.2 L729.8,640.0 L730.7,638.7 L731.6,644.0 L732.5,642.7 L733.3,637.5 L734.2,640.0 L735.1,636.4 L736.0,640.7 L736.9,639.2 L737.8,636.5 L738.7,639.9 L739.6,640.0 L740.4,630.6 L741.3,637.1 L742.2,639.1 L743.1,639.3 L744.0,637.6 L744.9,637.2 L745.8,634.1 L746.6,633.7 L747.5,637.1 L748.4,638.0 L749.3,641.4 L750.2,642.6 L751.1,640.8 L752.0,635.9 L752.9,636.2 L753.7,634.3 L754.6,633.3 L755.5,636.2 L756.4,630.4 L757.3,636.4 L758.2,638.5 L759.1,638.5 L759.9,633.9 L760.8,636.3 L761.7,638.7 L762.6,636.0 L763.5,633.1 L764.4,635.9 L765.3,637.2 L766.2,633.6 L767.0,632.8 L767.9,632.7 L768.8,637.7 L769.7,636.1 L770.6,635.4 L771.5,641.6 L772.4,634.6 L773.3,635.7 L774.1,637.4 L775.0,630.2 L775.9,634.3 L776.8,638.1 L777.7,637.3 L778.6,635.2 L779.5,633.8 L780.3,636.0 L781.2,639.0 L782.1,639.4 L783.0,639.9 L783.9,640.7 L784.8,638.0 L785.7,638.5 L786.6,637.1 L787.4,639.2 L788.3,640.0 L789.2,638.2 L790.1,638.2 L791.0,633.8 L791.9,638.5 L792.8,636.6 L793.6,636.8 L794.5,640.6 L795.4,635.7 L796.3,635.9 L797.2,642.6 L798.1,636.7 L799.0,634.0 L799.9,638.2 L800.7,632.2 L801.6,634.9 L802.5,639.6 L803.4,635.9 L804.3,637.6 L805.2,640.9 L806.1,644.3 L807.0,638.3 L807.8,639.4 L808.7,635.6 L809.6,635.3 L810.5,637.8 L811.4,638.6 L812.3,632.1 L813.2,630.4 L814.0,632.6 L814.9,636.6 L815.8,639.6 L816.7,638.8 L817.6,632.5 L818.5,634.1 L819.4,636.8 L820.3,640.4 L821.1,637.4 L822.0,639.5 L822.9,637.6 L823.8,634.9 L824.7,633.1 L825.6,635.3 L826.5,637.3 L827.3,636.3 L828.2,631.4 L829.1,634.1 L830.0,640.1 L830.9,633.2 L831.8,635.0 L832.7,626.1 L833.6,635.0 L834.4,636.5 L835.3,637.6 L836.2,636.0 L837.1,638.3 L838.0,641.6 L838.9,643.9 L839.8,639.3 L840.7,639.1 L841.5,639.2 L842.4,631.3 L843.3,632.9 L844.2,632.5 L845.1,637.0 L846.0,636.0 L846.9,637.2 L847.7,637.6 L848.6,634.9 L849.5,634.5 L850.4,635.3 L851.3,636.0 L852.2,640.8 L853.1,640.2 L854.0,636.8 L854.8,637.9 L855.7,639.5 L856.6,636.6 L857.5,639.5 L858.4,639.6 L859.3,635.1 L860.2,637.4 L861.0,632.9 L861.9,634.2 L862.8,633.7 L863.7,632.6 L864.6,642.0 L865.5,638.7 L866.4,641.2 L867.3,639.6 L868.1,638.0 L869.0,633.6 L869.9,636.1 L870.8,631.9 L871.7,637.0 L872.6,637.1 L873.5,636.7 L874.3,634.1 L875.2,636.2 L876.1,638.5 L877.0,638.4 L877.9,641.5 L878.8,634.6 L879.7,634.1 L880.6,634.9 L881.4,635.5 L882.3,638.3 L883.2,638.6 L884.1,635.1 L885.0,638.7 L885.9,639.8 L886.8,633.2 L887.7,631.3 L888.5,634.4 L889.4,634.7 L890.3,635.8 L891.2,632.5 L892.1,636.9 L893.0,636.7 L893.9,635.5 L894.7,632.4 L895.6,636.3 L896.5,636.1 L897.4,638.2 L898.3,639.3 L899.2,639.6 L900.1,637.6 L901.0,634.6 L901.8,638.3 L902.7,639.2 L903.6,638.8 L904.5,636.6 L905.4,634.9 L906.3,640.0 L907.2,636.9 L908.0,639.9 L908.9,635.8 L909.8,639.5 L910.7,640.9 L911.6,640.3 L912.5,638.2 L913.4,640.3 L914.3,637.4 L915.1,636.7 L916.0,636.7 L916.9,636.2 L917.8,634.3 L918.7,638.4 L919.6,637.5 L920.5,637.3 L921.4,643.1 L922.2,637.8 L923.1,639.5 L924.0,639.9 L924.9,639.2 L925.8,637.5 L926.7,636.3 L927.6,635.5 L928.4,638.6 L929.3,635.5 L930.2,635.4 L931.1,637.7 L932.0,637.4 L932.9,634.9 L933.8,635.2 L934.7,634.5 L935.5,636.0 L936.4,633.5 L937.3,629.6 L938.2,633.6 L939.1,640.7 L940.0,633.2 L940.9,637.6 L941.7,641.3 L942.6,645.2 L943.5,638.3 L944.4,634.4 L945.3,633.4 L946.2,637.1 L947.1,633.0 L948.0,636.1 L948.8,638.6 L949.7,637.4 L950.6,636.6 L951.5,636.9 L952.4,635.9 L953.3,643.1 L954.2,634.4 L955.1,638.0 L955.9,635.6 L956.8,639.0 L957.7,637.3 L958.6,637.7 L959.5,641.9 L960.4,637.5 L961.3,635.5 L962.1,639.9 L963.0,644.1 L963.9,641.1 L964.8,640.8 L965.7,638.0 L966.6,637.5 L967.5,632.7 L968.4,634.0 L969.2,637.0 L970.1,636.7 L971.0,645.4 L971.9,642.3 L972.8,641.4 L973.7,638.8 L974.6,636.8 L975.4,636.5 L976.3,634.3 L977.2,638.4 L978.1,636.7 L979.0,637.5 L979.9,637.3 L980.8,636.3 L981.7,637.8 L982.5,636.8 L983.4,637.2 L984.3,634.3 L985.2,636.7 L986.1,636.2 L987.0,629.5 L987.9,633.2 L988.8,634.6 L989.6,633.4 L990.5,639.0 L991.4,635.8 L992.3,634.7 L993.2,635.3 L994.1,633.9 L995.0,634.0 L995.8,632.9 L996.7,637.8 L997.6,636.2 L998.5,638.6 L999.4,634.1 L1000.3,636.0 L1001.2,640.7 L1002.1,638.0 L1002.9,640.4 L1003.8,635.4 L1004.7,637.7 L1005.6,643.8" fill="none" stroke="#9a3cff" stroke-width="1.25" stroke-linejoin="round"/>
<path d="M527.6,628.5 L528.5,625.7 L529.4,629.5 L530.3,626.1 L531.1,621.6 L532.0,622.6 L532.9,616.4 L533.8,627.2 L534.7,625.6 L535.6,628.9 L536.5,630.3 L537.4,627.2 L538.2,623.7 L539.1,621.2 L540.0,619.5 L540.9,609.4 L541.8,613.0 L542.7,627.2 L543.6,622.3 L544.4,625.1 L545.3,625.6 L546.2,615.9 L547.1,620.7 L548.0,631.8 L548.9,623.4 L549.8,623.7 L550.7,628.6 L551.5,629.0 L552.4,627.5 L553.3,623.7 L554.2,624.6 L555.1,622.2 L556.0,611.8 L556.9,622.4 L557.8,626.2 L558.6,624.5 L559.5,616.6 L560.4,623.6 L561.3,614.5 L562.2,626.1 L563.1,628.7 L564.0,624.3 L564.8,627.1 L565.7,626.8 L566.6,620.9 L567.5,617.4 L568.4,619.4 L569.3,622.3 L570.2,614.5 L571.1,616.9 L571.9,621.2 L572.8,614.8 L573.7,624.0 L574.6,621.5 L575.5,617.9 L576.4,620.3 L577.3,624.2 L578.1,620.5 L579.0,624.1 L579.9,625.6 L580.8,628.5 L581.7,616.9 L582.6,622.9 L583.5,615.7 L584.4,617.4 L585.2,621.5 L586.1,617.9 L587.0,618.8 L587.9,619.8 L588.8,628.3 L589.7,623.5 L590.6,617.4 L591.5,617.4 L592.3,614.8 L593.2,611.3 L594.1,615.9 L595.0,609.2 L595.9,625.7 L596.8,624.7 L597.7,636.8 L598.5,623.0 L599.4,622.1 L600.3,613.3 L601.2,621.4 L602.1,633.2 L603.0,619.6 L603.9,629.0 L604.8,632.0 L605.6,627.2 L606.5,621.3 L607.4,625.4 L608.3,623.1 L609.2,633.6 L610.1,617.8 L611.0,622.0 L611.8,622.6 L612.7,620.3 L613.6,621.8 L614.5,622.3 L615.4,628.6 L616.3,626.5 L617.2,622.8 L618.1,618.3 L618.9,623.1 L619.8,623.7 L620.7,622.6 L621.6,621.1 L622.5,622.6 L623.4,625.6 L624.3,628.2 L625.2,620.3 L626.0,622.1 L626.9,624.2 L627.8,606.4 L628.7,614.2 L629.6,617.2 L630.5,622.1 L631.4,630.2 L632.2,621.4 L633.1,625.1 L634.0,625.6 L634.9,620.6 L635.8,619.0 L636.7,622.7 L637.6,625.2 L638.5,615.0 L639.3,619.7 L640.2,630.0 L641.1,624.0 L642.0,625.2 L642.9,626.4 L643.8,623.3 L644.7,624.7 L645.5,615.6 L646.4,622.2 L647.3,624.3 L648.2,620.2 L649.1,628.1 L650.0,622.4 L650.9,626.2 L651.8,620.9 L652.6,630.1 L653.5,626.5 L654.4,636.2 L655.3,633.3 L656.2,629.9 L657.1,626.2 L658.0,616.9 L658.9,614.5 L659.7,630.8 L660.6,633.4 L661.5,623.5 L662.4,624.5 L663.3,634.6 L664.2,628.2 L665.1,634.7 L665.9,635.6 L666.8,638.1 L667.7,633.7 L668.6,618.6 L669.5,623.5 L670.4,627.8 L671.3,615.2 L672.2,627.0 L673.0,629.4 L673.9,630.9 L674.8,627.8 L675.7,630.7 L676.6,622.2 L677.5,628.7 L678.4,626.5 L679.2,627.5 L680.1,633.8 L681.0,636.6 L681.9,632.7 L682.8,643.5 L683.7,634.8 L684.6,631.5 L685.5,630.0 L686.3,630.7 L687.2,628.7 L688.1,631.8 L689.0,627.6 L689.9,638.4 L690.8,628.5 L691.7,634.7 L692.5,629.6 L693.4,632.9 L694.3,633.9 L695.2,636.3 L696.1,625.6 L697.0,635.0 L697.9,639.0 L698.8,632.8 L699.6,630.4 L700.5,630.7 L701.4,636.3 L702.3,636.6 L703.2,628.4 L704.1,636.0 L705.0,629.8 L705.9,627.0 L706.7,629.3 L707.6,637.4 L708.5,623.4 L709.4,628.2 L710.3,629.5 L711.2,633.1 L712.1,637.4 L712.9,635.3 L713.8,632.1 L714.7,636.6 L715.6,633.1 L716.5,626.3 L717.4,627.8 L718.3,631.2 L719.2,626.3 L720.0,625.3 L720.9,625.1 L721.8,634.2 L722.7,642.9 L723.6,631.9 L724.5,632.0 L725.4,634.5 L726.2,630.7 L727.1,634.5 L728.0,636.7 L728.9,624.5 L729.8,638.5 L730.7,630.4 L731.6,626.7 L732.5,621.3 L733.3,627.6 L734.2,628.5 L735.1,636.5 L736.0,634.2 L736.9,645.0 L737.8,640.5 L738.7,636.1 L739.6,634.9 L740.4,636.6 L741.3,628.4 L742.2,640.3 L743.1,635.3 L744.0,636.4 L744.9,634.5 L745.8,633.8 L746.6,623.4 L747.5,636.0 L748.4,627.5 L749.3,624.2 L750.2,631.3 L751.1,636.3 L752.0,641.2 L752.9,640.7 L753.7,624.8 L754.6,641.7 L755.5,633.3 L756.4,636.4 L757.3,623.4 L758.2,627.2 L759.1,637.3 L759.9,636.2 L760.8,631.8 L761.7,630.5 L762.6,635.6 L763.5,633.7 L764.4,633.8 L765.3,628.6 L766.2,627.8 L767.0,627.6 L767.9,631.7 L768.8,625.6 L769.7,630.6 L770.6,633.6 L771.5,632.3 L772.4,631.1 L773.3,630.5 L774.1,638.8 L775.0,623.9 L775.9,622.4 L776.8,618.0 L777.7,625.5 L778.6,621.8 L779.5,623.4 L780.3,624.6 L781.2,615.4 L782.1,624.9 L783.0,621.8 L783.9,633.0 L784.8,624.5 L785.7,625.4 L786.6,630.2 L787.4,629.5 L788.3,637.3 L789.2,634.3 L790.1,626.5 L791.0,638.8 L791.9,623.0 L792.8,617.9 L793.6,625.3 L794.5,631.8 L795.4,633.5 L796.3,633.3 L797.2,630.4 L798.1,613.5 L799.0,625.2 L799.9,619.1 L800.7,614.2 L801.6,624.2 L802.5,624.0 L803.4,618.7 L804.3,623.9 L805.2,615.4 L806.1,607.5 L807.0,616.5 L807.8,623.7 L808.7,618.5 L809.6,617.9 L810.5,623.5 L811.4,622.0 L812.3,620.2 L813.2,617.3 L814.0,612.7 L814.9,619.9 L815.8,627.1 L816.7,631.4 L817.6,614.3 L818.5,620.7 L819.4,623.1 L820.3,608.5 L821.1,610.8 L822.0,605.7 L822.9,617.0 L823.8,623.9 L824.7,625.6 L825.6,620.0 L826.5,619.4 L827.3,619.4 L828.2,609.5 L829.1,611.0 L830.0,624.9 L830.9,621.6 L831.8,619.8 L832.7,626.5 L833.6,612.5 L834.4,615.2 L835.3,613.1 L836.2,623.5 L837.1,630.6 L838.0,623.0 L838.9,625.6 L839.8,628.7 L840.7,627.2 L841.5,625.3 L842.4,625.1 L843.3,627.0 L844.2,624.2 L845.1,610.2 L846.0,614.7 L846.9,625.4 L847.7,615.3 L848.6,625.3 L849.5,634.6 L850.4,636.9 L851.3,641.2 L852.2,625.5 L853.1,632.1 L854.0,636.1 L854.8,632.9 L855.7,629.7 L856.6,634.3 L857.5,632.2 L858.4,628.3 L859.3,623.4 L860.2,630.3 L861.0,624.6 L861.9,624.1 L862.8,622.4 L863.7,627.6 L864.6,632.8 L865.5,623.1 L866.4,621.7 L867.3,628.0 L868.1,630.7 L869.0,623.7 L869.9,614.0 L870.8,619.5 L871.7,609.8 L872.6,618.3 L873.5,621.1 L874.3,621.2 L875.2,618.0 L876.1,630.9 L877.0,626.4 L877.9,618.7 L878.8,631.3 L879.7,626.0 L880.6,621.3 L881.4,614.4 L882.3,612.7 L883.2,620.8 L884.1,612.2 L885.0,626.3 L885.9,632.8 L886.8,620.3 L887.7,619.4 L888.5,628.9 L889.4,620.1 L890.3,618.2 L891.2,618.3 L892.1,624.6 L893.0,631.3 L893.9,635.9 L894.7,629.4 L895.6,626.8 L896.5,627.8 L897.4,628.4 L898.3,620.5 L899.2,628.9 L900.1,629.7 L901.0,615.1 L901.8,624.2 L902.7,627.3 L903.6,619.2 L904.5,631.9 L905.4,617.7 L906.3,628.4 L907.2,629.7 L908.0,632.6 L908.9,631.8 L909.8,630.3 L910.7,620.8 L911.6,622.9 L912.5,615.8 L913.4,616.6 L914.3,627.8 L915.1,624.9 L916.0,627.4 L916.9,627.3 L917.8,624.3 L918.7,621.9 L919.6,620.7 L920.5,634.2 L921.4,628.3 L922.2,627.9 L923.1,615.2 L924.0,622.2 L924.9,623.5 L925.8,623.8 L926.7,619.7 L927.6,628.8 L928.4,626.4 L929.3,625.6 L930.2,624.8 L931.1,625.8 L932.0,627.7 L932.9,625.0 L933.8,631.7 L934.7,618.1 L935.5,622.2 L936.4,633.5 L937.3,629.2 L938.2,620.9 L939.1,624.3 L940.0,625.3 L940.9,637.2 L941.7,621.3 L942.6,623.1 L943.5,634.8 L944.4,630.7 L945.3,618.9 L946.2,620.6 L947.1,631.5 L948.0,630.2 L948.8,625.4 L949.7,613.8 L950.6,619.7 L951.5,619.1 L952.4,624.7 L953.3,624.7 L954.2,630.4 L955.1,634.1 L955.9,635.7 L956.8,632.0 L957.7,620.8 L958.6,623.9 L959.5,618.3 L960.4,618.6 L961.3,622.1 L962.1,627.0 L963.0,614.2 L963.9,615.3 L964.8,615.1 L965.7,608.3 L966.6,611.2 L967.5,619.3 L968.4,621.3 L969.2,621.1 L970.1,611.8 L971.0,626.3 L971.9,635.8 L972.8,631.9 L973.7,627.9 L974.6,629.7 L975.4,622.1 L976.3,621.3 L977.2,624.4 L978.1,625.0 L979.0,615.2 L979.9,611.3 L980.8,611.4 L981.7,622.9 L982.5,618.3 L983.4,629.6 L984.3,637.3 L985.2,620.8 L986.1,619.5 L987.0,620.2 L987.9,616.4 L988.8,613.7 L989.6,620.3 L990.5,622.7 L991.4,621.8 L992.3,620.1 L993.2,623.2 L994.1,632.6 L995.0,615.1 L995.8,626.6 L996.7,629.8 L997.6,624.4 L998.5,626.1 L999.4,651.7 L1000.3,612.4 L1001.2,613.9 L1002.1,624.7 L1002.9,624.3 L1003.8,626.2 L1004.7,619.7 L1005.6,629.2" fill="none" stroke="#00f0ff" stroke-width="1.25" stroke-linejoin="round"/>
<path d="M527.6,502.7 L528.5,463.1 L529.4,476.0 L530.3,487.3 L531.1,492.7 L532.0,480.3 L532.9,487.9 L533.8,493.3 L534.7,476.4 L535.6,473.0 L536.5,467.6 L537.4,482.5 L538.2,476.0 L539.1,475.1 L540.0,491.0 L540.9,472.2 L541.8,469.9 L542.7,446.2 L543.6,464.7 L544.4,473.2 L545.3,460.0 L546.2,468.2 L547.1,462.3 L548.0,475.1 L548.9,471.8 L549.8,461.9 L550.7,463.1 L551.5,469.8 L552.4,484.9 L553.3,471.7 L554.2,472.5 L555.1,465.5 L556.0,469.4 L556.9,460.6 L557.8,471.2 L558.6,471.0 L559.5,465.7 L560.4,484.0 L561.3,480.9 L562.2,481.2 L563.1,453.6 L564.0,469.9 L564.8,465.6 L565.7,464.9 L566.6,474.8 L567.5,491.4 L568.4,467.5 L569.3,476.8 L570.2,466.6 L571.1,486.6 L571.9,482.0 L572.8,461.9 L573.7,454.9 L574.6,483.7 L575.5,491.2 L576.4,478.7 L577.3,467.0 L578.1,470.4 L579.0,469.6 L579.9,483.9 L580.8,469.8 L581.7,460.4 L582.6,475.4 L583.5,490.3 L584.4,486.5 L585.2,468.5 L586.1,491.9 L587.0,479.4 L587.9,486.3 L588.8,478.5 L589.7,477.8 L590.6,474.7 L591.5,457.3 L592.3,465.1 L593.2,456.8 L594.1,471.2 L595.0,478.6 L595.9,470.8 L596.8,504.8 L597.7,482.1 L598.5,474.2 L599.4,487.7 L600.3,472.2 L601.2,479.7 L602.1,502.8 L603.0,483.5 L603.9,487.2 L604.8,483.0 L605.6,477.9 L606.5,460.9 L607.4,469.5 L608.3,473.1 L609.2,469.4 L610.1,493.0 L611.0,464.8 L611.8,483.7 L612.7,471.4 L613.6,485.9 L614.5,487.8 L615.4,481.8 L616.3,454.7 L617.2,461.3 L618.1,477.5 L618.9,478.0 L619.8,487.8 L620.7,477.7 L621.6,481.3 L622.5,467.7 L623.4,487.5 L624.3,480.9 L625.2,484.9 L626.0,484.4 L626.9,468.2 L627.8,470.7 L628.7,466.1 L629.6,458.1 L630.5,456.5 L631.4,484.1 L632.2,469.7 L633.1,491.6 L634.0,478.1 L634.9,452.5 L635.8,469.6 L636.7,475.8 L637.6,471.2 L638.5,471.7 L639.3,471.7 L640.2,480.3 L641.1,461.9 L642.0,459.4 L642.9,470.9 L643.8,467.9 L644.7,463.2 L645.5,457.8 L646.4,463.5 L647.3,461.5 L648.2,471.6 L649.1,483.0 L650.0,479.4 L650.9,461.5 L651.8,457.5 L652.6,465.6 L653.5,475.6 L654.4,468.2 L655.3,451.2 L656.2,450.3 L657.1,472.7 L658.0,471.1 L658.9,486.4 L659.7,486.6 L660.6,471.8 L661.5,469.8 L662.4,458.8 L663.3,452.5 L664.2,455.7 L665.1,451.1 L665.9,470.6 L666.8,482.0 L667.7,466.5 L668.6,438.3 L669.5,457.1 L670.4,478.5 L671.3,468.3 L672.2,452.4 L673.0,475.8 L673.9,461.1 L674.8,473.1 L675.7,455.0 L676.6,455.9 L677.5,461.4 L678.4,443.7 L679.2,466.2 L680.1,474.8 L681.0,448.5 L681.9,472.3 L682.8,443.9 L683.7,461.7 L684.6,477.2 L685.5,469.4 L686.3,466.0 L687.2,464.2 L688.1,468.1 L689.0,454.8 L689.9,489.3 L690.8,478.2 L691.7,472.1 L692.5,447.2 L693.4,483.5 L694.3,474.0 L695.2,480.6 L696.1,476.8 L697.0,461.2 L697.9,459.8 L698.8,447.9 L699.6,467.6 L700.5,462.7 L701.4,451.4 L702.3,451.5 L703.2,465.3 L704.1,452.6 L705.0,472.4 L705.9,447.0 L706.7,459.2 L707.6,465.3 L708.5,462.6 L709.4,455.6 L710.3,444.0 L711.2,462.2 L712.1,469.3 L712.9,460.6 L713.8,474.8 L714.7,487.6 L715.6,462.7 L716.5,470.1 L717.4,455.2 L718.3,475.6 L719.2,501.7 L720.0,472.8 L720.9,467.1 L721.8,449.7 L722.7,457.4 L723.6,461.8 L724.5,460.0 L725.4,470.2 L726.2,467.9 L727.1,483.4 L728.0,466.5 L728.9,477.1 L729.8,475.9 L730.7,462.9 L731.6,457.3 L732.5,477.5 L733.3,449.0 L734.2,470.9 L735.1,460.6 L736.0,456.8 L736.9,464.1 L737.8,466.6 L738.7,449.2 L739.6,455.0 L740.4,461.5 L741.3,488.6 L742.2,483.4 L743.1,460.9 L744.0,466.2 L744.9,480.5 L745.8,480.6 L746.6,477.0 L747.5,465.1 L748.4,465.6 L749.3,459.0 L750.2,477.7 L751.1,462.3 L752.0,475.2 L752.9,437.9 L753.7,453.7 L754.6,466.6 L755.5,472.1 L756.4,474.3 L757.3,476.7 L758.2,455.6 L759.1,452.3 L759.9,458.8 L760.8,466.3 L761.7,458.6 L762.6,469.1 L763.5,465.8 L764.4,465.5 L765.3,468.9 L766.2,452.3 L767.0,446.9 L767.9,450.3 L768.8,487.3 L769.7,454.6 L770.6,459.1 L771.5,473.0 L772.4,471.7 L773.3,458.4 L774.1,454.6 L775.0,457.2 L775.9,465.7 L776.8,469.0 L777.7,460.9 L778.6,469.1 L779.5,480.2 L780.3,479.8 L781.2,474.3 L782.1,467.6 L783.0,444.0 L783.9,478.1 L784.8,465.5 L785.7,468.2 L786.6,464.0 L787.4,450.7 L788.3,448.1 L789.2,462.6 L790.1,470.1 L791.0,480.5 L791.9,468.2 L792.8,449.9 L793.6,461.7 L794.5,453.4 L795.4,450.7 L796.3,453.0 L797.2,445.4 L798.1,456.4 L799.0,466.6 L799.9,472.5 L800.7,450.1 L801.6,458.3 L802.5,459.3 L803.4,446.3 L804.3,460.6 L805.2,435.2 L806.1,440.6 L807.0,454.8 L807.8,459.0 L808.7,440.5 L809.6,460.6 L810.5,459.1 L811.4,451.0 L812.3,446.2 L813.2,446.6 L814.0,442.1 L814.9,448.8 L815.8,447.3 L816.7,431.0 L817.6,433.3 L818.5,445.6 L819.4,424.0 L820.3,459.5 L821.1,444.7 L822.0,434.0 L822.9,427.4 L823.8,434.8 L824.7,441.8 L825.6,432.1 L826.5,437.9 L827.3,431.4 L828.2,466.5 L829.1,438.6 L830.0,444.2 L830.9,428.5 L831.8,426.1 L832.7,425.6 L833.6,435.1 L834.4,430.1 L835.3,435.4 L836.2,431.8 L837.1,433.8 L838.0,440.5 L838.9,417.5 L839.8,422.4 L840.7,447.5 L841.5,428.2 L842.4,443.0 L843.3,436.5 L844.2,437.8 L845.1,437.6 L846.0,430.7 L846.9,433.8 L847.7,444.1 L848.6,434.1 L849.5,428.4 L850.4,414.8 L851.3,369.5 L852.2,440.9 L853.1,401.9 L854.0,426.5 L854.8,437.3 L855.7,438.6 L856.6,427.9 L857.5,430.1 L858.4,428.6 L859.3,435.6 L860.2,439.1 L861.0,435.6 L861.9,433.3 L862.8,434.2 L863.7,427.9 L864.6,425.3 L865.5,424.6 L866.4,425.0 L867.3,436.9 L868.1,441.9 L869.0,426.6 L869.9,429.6 L870.8,429.4 L871.7,440.4 L872.6,434.9 L873.5,437.3 L874.3,439.8 L875.2,438.4 L876.1,445.5 L877.0,433.7 L877.9,421.4 L878.8,434.5 L879.7,430.8 L880.6,440.2 L881.4,427.3 L882.3,413.7 L883.2,437.1 L884.1,434.3 L885.0,419.3 L885.9,424.7 L886.8,428.2 L887.7,447.7 L888.5,436.3 L889.4,424.2 L890.3,416.7 L891.2,421.6 L892.1,433.4 L893.0,437.3 L893.9,448.1 L894.7,444.3 L895.6,424.4 L896.5,430.1 L897.4,442.1 L898.3,422.2 L899.2,443.0 L900.1,422.9 L901.0,431.5 L901.8,428.0 L902.7,424.1 L903.6,426.8 L904.5,418.7 L905.4,427.6 L906.3,432.7 L907.2,436.9 L908.0,444.7 L908.9,440.2 L909.8,424.6 L910.7,422.0 L911.6,416.5 L912.5,403.6 L913.4,417.8 L914.3,423.1 L915.1,440.2 L916.0,435.2 L916.9,412.8 L917.8,421.7 L918.7,429.6 L919.6,427.8 L920.5,446.3 L921.4,441.8 L922.2,444.8 L923.1,452.7 L924.0,429.6 L924.9,422.1 L925.8,430.1 L926.7,427.5 L927.6,438.6 L928.4,428.8 L929.3,423.6 L930.2,415.7 L931.1,413.5 L932.0,422.2 L932.9,429.7 L933.8,437.6 L934.7,437.7 L935.5,427.1 L936.4,424.9 L937.3,429.1 L938.2,415.9 L939.1,421.4 L940.0,428.2 L940.9,431.7 L941.7,430.3 L942.6,438.8 L943.5,441.2 L944.4,430.3 L945.3,435.7 L946.2,434.3 L947.1,421.0 L948.0,430.0 L948.8,419.2 L949.7,427.9 L950.6,416.9 L951.5,423.2 L952.4,444.0 L953.3,423.3 L954.2,430.6 L955.1,447.7 L955.9,434.0 L956.8,430.2 L957.7,441.7 L958.6,438.7 L959.5,428.0 L960.4,417.8 L961.3,417.6 L962.1,416.9 L963.0,417.6 L963.9,448.9 L964.8,441.5 L965.7,431.8 L966.6,454.2 L967.5,429.9 L968.4,422.8 L969.2,435.4 L970.1,435.2 L971.0,439.9 L971.9,433.2 L972.8,431.7 L973.7,431.0 L974.6,439.6 L975.4,429.6 L976.3,433.4 L977.2,423.2 L978.1,426.1 L979.0,442.4 L979.9,446.1 L980.8,433.9 L981.7,435.7 L982.5,427.9 L983.4,423.0 L984.3,428.6 L985.2,444.7 L986.1,444.5 L987.0,429.2 L987.9,439.4 L988.8,423.3 L989.6,429.6 L990.5,425.9 L991.4,437.1 L992.3,433.2 L993.2,456.9 L994.1,439.0 L995.0,427.8 L995.8,437.7 L996.7,439.7 L997.6,433.4 L998.5,430.8 L999.4,437.7 L1000.3,426.6 L1001.2,443.9 L1002.1,424.4 L1002.9,387.5 L1003.8,440.4 L1004.7,421.6 L1005.6,437.0" fill="none" stroke="#e5a716" stroke-width="1.25" stroke-linejoin="round"/>
<line x1="753.0" y1="367" x2="753.0" y2="671" stroke="#2a2a2a" stroke-width="1.3" stroke-dasharray="5 3"/>
<line x1="848.6" y1="367" x2="848.6" y2="671" stroke="#2a2a2a" stroke-width="1.3" stroke-dasharray="5 3"/>
</g>
<rect x="524" y="364.8" width="485.6" height="2.7" fill="#000"/>
<rect x="524" y="364.8" width="3.8" height="308.6" fill="#000"/>
<rect x="1005.6" y="364.8" width="4" height="308.6" fill="#000"/>
<rect x="524" y="670.4" width="485.6" height="3.1" fill="#000"/>
<rect x="527" y="652.6" width="6.6" height="2.6" fill="#000"/>
<rect x="527" y="580.6" width="6.6" height="2.6" fill="#000"/>
<rect x="527" y="508.6" width="6.6" height="2.6" fill="#000"/>
<rect x="527" y="436.6" width="6.6" height="2.6" fill="#000"/>
<rect x="685.6" y="665.6" width="2.6" height="5.5" fill="#000"/>
<rect x="845.0" y="665.6" width="2.6" height="5.5" fill="#000"/>
<text x="501.00" y="445" font-size="16" font-weight="bold" fill="#000" textLength="20.00" lengthAdjust="spacingAndGlyphs" >60</text>
<text x="501.00" y="517.4" font-size="16" font-weight="bold" fill="#000" textLength="20.00" lengthAdjust="spacingAndGlyphs" >40</text>
<text x="501.40" y="590.2" font-size="16" font-weight="bold" fill="#000" textLength="19.20" lengthAdjust="spacingAndGlyphs" >20</text>
<text x="506.50" y="662" font-size="16" font-weight="bold" fill="#000" textLength="9.02" lengthAdjust="spacingAndGlyphs" >0</text>
<text x="521.40" y="689" font-size="16" font-weight="bold" fill="#000" textLength="9.02" lengthAdjust="spacingAndGlyphs" >0</text>
<text x="667.80" y="689" font-size="16" font-weight="bold" fill="#000" textLength="37.99" lengthAdjust="spacingAndGlyphs" >1000</text>
<text x="826.60" y="689" font-size="16" font-weight="bold" fill="#000" textLength="37.99" lengthAdjust="spacingAndGlyphs" >2000</text>
<text x="984.50" y="689" font-size="16" font-weight="bold" fill="#000" textLength="38.99" lengthAdjust="spacingAndGlyphs" >3000</text>
<text x="704.00" y="709.8" font-size="19.6" font-weight="bold" fill="#000" textLength="135.60" lengthAdjust="spacingAndGlyphs" >Distance (nm)</text>
<text transform="translate(493.8,555.2) rotate(-90)" x="-0.00" y="0" font-size="20.2" font-weight="bold" fill="#000" textLength="90.48" lengthAdjust="spacingAndGlyphs" >Atomic %</text>
<text x="478.80" y="386.5" font-size="24" font-weight="bold" fill="#000" textLength="28.99" lengthAdjust="spacingAndGlyphs" >(d)</text>
<line x1="534" y1="384.1" x2="582" y2="384.1" stroke="#858585" stroke-width="1.2"/>
<path d="M528.6,384.1 L535.2,380.90000000000003 L535.2,387.3 Z" fill="#000"/>
<line x1="697.5" y1="384.1" x2="746" y2="384.1" stroke="#858585" stroke-width="1.2"/>
<path d="M751.6,384.1 L745.0,380.90000000000003 L745.0,387.3 Z" fill="#000"/>
<line x1="760" y1="384.1" x2="777" y2="384.1" stroke="#858585" stroke-width="1.2"/>
<path d="M754.4,384.1 L761.0,380.90000000000003 L761.0,387.3 Z" fill="#000"/>
<line x1="824.5" y1="384.1" x2="842" y2="384.1" stroke="#858585" stroke-width="1.2"/>
<path d="M847.2,384.1 L840.6,380.90000000000003 L840.6,387.3 Z" fill="#000"/>
<line x1="855" y1="384.1" x2="882" y2="384.1" stroke="#858585" stroke-width="1.2"/>
<path d="M849.7,384.1 L856.3000000000001,380.90000000000003 L856.3000000000001,387.3 Z" fill="#000"/>
<line x1="970.5" y1="384.1" x2="999" y2="384.1" stroke="#858585" stroke-width="1.2"/>
<path d="M1005.0,384.1 L998.4,380.90000000000003 L998.4,387.3 Z" fill="#000"/>
<text x="593.60" y="388.4" font-size="16.2" font-weight="bold" fill="#000" textLength="92.00" lengthAdjust="spacingAndGlyphs" >Oxide layer</text>
<text x="888.40" y="389.4" font-size="16.2" font-weight="bold" fill="#000" textLength="77.40" lengthAdjust="spacingAndGlyphs" >Substrate</text>
<text x="780.10" y="380.8" font-size="11" font-weight="bold" fill="#1a1a1a" textLength="42.40" lengthAdjust="spacingAndGlyphs" >Thermal</text>
<text x="787.30" y="395.6" font-size="11" font-weight="bold" fill="#1a1a1a" textLength="27.79" lengthAdjust="spacingAndGlyphs" >oxide</text>
<rect x="1018.4" y="435.7" width="42.9" height="3" fill="#e5a716"/>
<text x="1073.00" y="446.1" font-size="22.6" font-weight="bold" fill="#000" textLength="24.09" lengthAdjust="spacingAndGlyphs" >Fe</text>
<rect x="1018.4" y="462.5" width="42.9" height="3" fill="#1a3cff"/>
<text x="1080.30" y="472.9" font-size="22.6" font-weight="bold" fill="#000" textLength="9.71" lengthAdjust="spacingAndGlyphs" >F</text>
<rect x="1018.4" y="489.3" width="42.9" height="3" fill="#ff1414"/>
<text x="1075.60" y="499.7" font-size="22.6" font-weight="bold" fill="#000" textLength="18.41" lengthAdjust="spacingAndGlyphs" >O</text>
<rect x="1018.4" y="516.2" width="42.9" height="3" fill="#0f7d0f"/>
<text x="1073.00" y="526.6" font-size="22.6" font-weight="bold" fill="#000" textLength="23.58" lengthAdjust="spacingAndGlyphs" >Cr</text>
<rect x="1018.4" y="543.0" width="42.9" height="3" fill="#4a4a4a"/>
<text x="1078.80" y="553.4" font-size="22.6" font-weight="bold" fill="#000" textLength="13.39" lengthAdjust="spacingAndGlyphs" >C</text>
<rect x="1018.4" y="569.8" width="42.9" height="3" fill="#00f0ff"/>
<text x="1077.00" y="580.2" font-size="22.6" font-weight="bold" fill="#000" textLength="23.50" lengthAdjust="spacingAndGlyphs" >Ni</text>
<rect x="1018.4" y="596.3" width="42.9" height="3" fill="#9a3cff"/>
<text x="1070.90" y="606.7" font-size="22.6" font-weight="bold" fill="#000" textLength="36.17" lengthAdjust="spacingAndGlyphs" >Mn</text>
</svg>
</body></html>
